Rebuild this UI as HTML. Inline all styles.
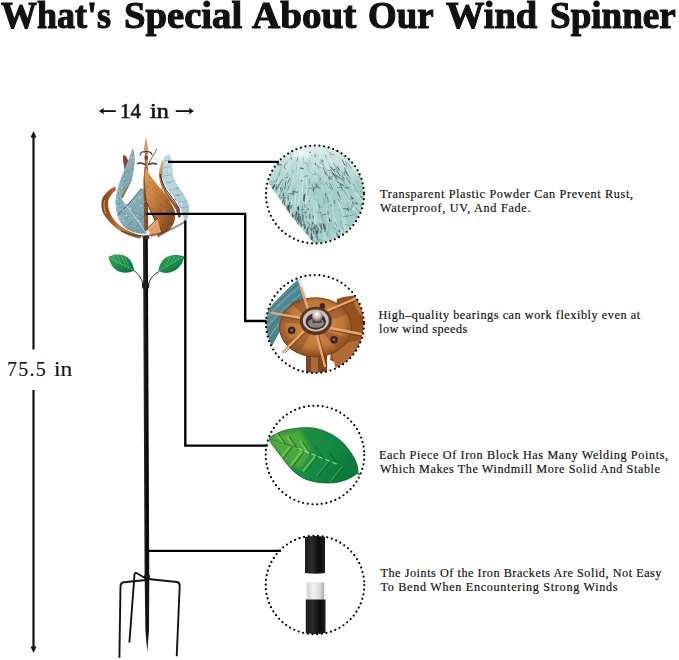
<!DOCTYPE html>
<html><head><meta charset="utf-8">
<style>
html,body{margin:0;padding:0;background:#fff;}
#c{position:relative;width:679px;height:660px;overflow:hidden;background:#fff;}
.t{position:absolute;white-space:nowrap;font-family:"Liberation Serif",serif;color:#1a1a1a;line-height:1;}
.tw{top:-4.1px;font-size:38px;font-weight:bold;color:#111;-webkit-text-stroke:1.1px #111;transform-origin:0 0;}
.dim{font-size:20px;color:#111;-webkit-text-stroke:0.55px #111;transform-origin:0 0;}
.d{font-size:12.2px;color:#111;-webkit-text-stroke:0.18px #111;}
svg{position:absolute;left:0;top:0;}
</style></head><body>
<div id="c">
<div class="t tw" style="left:1.00px;transform:scaleX(0.9483);">What's</div>
<div class="t tw" style="left:123.96px;transform:scaleX(1.0175);">Special</div>
<div class="t tw" style="left:252.00px;transform:scaleX(1.0294);">About</div>
<div class="t tw" style="left:368.03px;transform:scaleX(0.9697);">Our</div>
<div class="t tw" style="left:446.00px;transform:scaleX(1.0111);">Wind</div>
<div class="t tw" style="left:550.05px;transform:scaleX(0.9764);">Spinner</div>

<div class="t d" id="l1a" style="left:380.0px;top:187.8px;letter-spacing:0.651px;">Transparent Plastic Powder Can Prevent Rust,</div>
<div class="t d" id="l1b" style="left:380.0px;top:201.8px;letter-spacing:0.708px;">Waterproof, UV, And Fade.</div>
<div class="t d" id="l2a" style="left:378.5px;top:308.8px;letter-spacing:0.565px;">High–quality bearings can work flexibly even at</div>
<div class="t d" id="l2b" style="left:379.0px;top:322.8px;letter-spacing:0.500px;">low wind speeds</div>
<div class="t d" id="l3a" style="left:379.0px;top:448.8px;letter-spacing:0.625px;">Each Piece Of Iron Block Has Many Welding Points,</div>
<div class="t d" id="l3b" style="left:380.0px;top:462.8px;letter-spacing:0.578px;">Which Makes The Windmill More Solid And Stable</div>
<div class="t d" id="l4a" style="left:380.5px;top:566.8px;letter-spacing:0.542px;">The Joints Of the Iron Brackets Are Solid, Not Easy</div>
<div class="t d" id="l4b" style="left:380.5px;top:580.8px;letter-spacing:0.681px;">To Bend When Encountering Strong Winds</div>

<div class="t dim" style="left:7px;top:359px;letter-spacing:1.27px;-webkit-text-stroke:0.1px #111;">75.5</div>
<div class="t dim" style="left:54.2px;top:359px;transform:scaleX(1.18);-webkit-text-stroke:0.1px #111;">in</div>
<div class="t dim" style="left:120.4px;top:101px;transform:scaleX(1.05);">14</div>
<div class="t dim" style="left:149.5px;top:101px;transform:scaleX(1.21);">in</div>

<svg id="gfx" width="679" height="660" viewBox="0 0 679 660">
<defs>
  <linearGradient id="cuL" x1="0" y1="0" x2="1" y2="0">
    <stop offset="0" stop-color="#7a3e1c"/><stop offset="0.45" stop-color="#c27a3a"/><stop offset="1" stop-color="#8a4a22"/>
  </linearGradient>
  <linearGradient id="cuC" x1="0" y1="0" x2="1" y2="1">
    <stop offset="0" stop-color="#e0a055"/><stop offset="0.45" stop-color="#c0763a"/><stop offset="1" stop-color="#6e3616"/>
  </linearGradient>
  <linearGradient id="tlL" x1="0" y1="0" x2="1" y2="1">
    <stop offset="0" stop-color="#9bbcc6"/><stop offset="0.5" stop-color="#86acb8"/><stop offset="1" stop-color="#7399a6"/>
  </linearGradient>
  <linearGradient id="tlR" x1="0" y1="0" x2="1" y2="1">
    <stop offset="0" stop-color="#c6dde3"/><stop offset="1" stop-color="#a6c8d0"/>
  </linearGradient>
  <linearGradient id="leafG" x1="0" y1="0" x2="1" y2="1">
    <stop offset="0" stop-color="#3ea456"/><stop offset="0.5" stop-color="#1c8a50"/><stop offset="1" stop-color="#0e6c40"/>
  </linearGradient>
  <linearGradient id="pole" x1="0" y1="0" x2="1" y2="0">
    <stop offset="0" stop-color="#2a2622"/><stop offset="0.35" stop-color="#1e1c1a"/><stop offset="0.7" stop-color="#050505"/><stop offset="1" stop-color="#222"/>
  </linearGradient>
  <clipPath id="c1"><circle cx="315" cy="194.5" r="48.6"/></clipPath>
  <clipPath id="c2"><circle cx="315" cy="324" r="48.6"/></clipPath>
  <clipPath id="c3"><circle cx="315" cy="455" r="48.9"/></clipPath>
  <clipPath id="c4"><circle cx="315" cy="585" r="48.9"/></clipPath>
  <radialGradient id="disc" cx="0.5" cy="0.45" r="0.55">
    <stop offset="0" stop-color="#d89050"/><stop offset="0.7" stop-color="#c07838"/><stop offset="1" stop-color="#8a4a20"/>
  </radialGradient>
  <radialGradient id="nut" cx="0.45" cy="0.35" r="0.6">
    <stop offset="0" stop-color="#ffffff"/><stop offset="0.45" stop-color="#e0d0ca"/><stop offset="1" stop-color="#8a7470"/>
  </radialGradient>
  <linearGradient id="silver" x1="0" y1="0" x2="1" y2="0">
    <stop offset="0" stop-color="#cfcfcf"/><stop offset="0.35" stop-color="#f0f0f0"/><stop offset="0.75" stop-color="#dadada"/><stop offset="1" stop-color="#a8a8a8"/>
  </linearGradient>
  <linearGradient id="blk" x1="0" y1="0" x2="1" y2="0">
    <stop offset="0" stop-color="#1a1a1a"/><stop offset="0.35" stop-color="#2c2c2c"/><stop offset="0.7" stop-color="#0c0c0c"/><stop offset="1" stop-color="#1e1e1e"/>
  </linearGradient>
  <linearGradient id="bigleaf" x1="0" y1="0" x2="1" y2="0.4">
    <stop offset="0" stop-color="#3e9f3c"/><stop offset="0.35" stop-color="#1f8e40"/><stop offset="0.7" stop-color="#138a44"/><stop offset="1" stop-color="#0c7a3a"/>
  </linearGradient>
  <linearGradient id="tealC2" x1="0" y1="0" x2="1" y2="1">
    <stop offset="0" stop-color="#6a9ca4"/><stop offset="0.5" stop-color="#4f858e"/><stop offset="1" stop-color="#3f7480"/>
  </linearGradient>
  <radialGradient id="hl1" cx="0.5" cy="0.5" r="0.5">
    <stop offset="0" stop-color="#f4fbfb" stop-opacity="0.95"/><stop offset="1" stop-color="#e6f5f4" stop-opacity="0"/>
  </radialGradient>
  <linearGradient id="topfade" x1="0" y1="0" x2="0" y2="1">
    <stop offset="0" stop-color="#f2fafa" stop-opacity="0.75"/><stop offset="1" stop-color="#f2fafa" stop-opacity="0"/>
  </linearGradient>
  <linearGradient id="cuBack" x1="0" y1="0" x2="0" y2="1">
    <stop offset="0" stop-color="#d8bc90"/><stop offset="0.35" stop-color="#b07a4a"/><stop offset="1" stop-color="#7a4220"/>
  </linearGradient>
  <filter id="blur2" x="-20%" y="-20%" width="140%" height="140%"><feGaussianBlur stdDeviation="2"/></filter>
</defs>

<!-- ===== SPINNER ===== -->
<!-- pole -->
<path d="M143 237 L147.8 237 L149.3 577 L144.6 577 Z" fill="url(#pole)"/>
<path d="M144.7 576 L149.3 576 L149 630 L147.3 652 L145.4 630 Z" fill="#151515"/>
<rect x="142" y="282" width="7.2" height="7" rx="2.5" fill="#231d19"/>
<!-- stems -->
<path d="M133.5 270 C138 273.5 141.5 278 143.2 284" stroke="#3b3530" stroke-width="1" fill="none"/>
<path d="M158.8 271.5 C153.5 274.5 150.2 278.5 148.6 284" stroke="#3b3530" stroke-width="1" fill="none"/>
<!-- leaves -->
<path d="M108.4 257 C113 254 121 253.5 127 257 C131 260 133.5 265 134 270.5 C129 273.5 121 273.5 116 270 C112 267 109.5 262 108.4 257 Z" fill="url(#leafG)"/>
<path d="M110 258 L133 270 M113 256 L118 264 M117 255 L122 266 M121 255 L126 267 M125 257 L129 268" stroke="#7cd27a" stroke-width="0.8" fill="none" opacity="0.6"/>
<path d="M158.5 271 C159 265 162 259 168 256.5 C174 254 180 255 184.5 256.5 C183 262 180 268 174 271 C169 273.5 163 273.5 158.5 271 Z" fill="url(#leafG)"/>
<path d="M159.5 270.5 L183 257 M166 266 L170 257 M170 264 L175 256 M174 262 L179 256 M178 260 L182 257" stroke="#7cd27a" stroke-width="0.8" fill="none" opacity="0.6"/>

<!-- head: left outer copper band -->
<path d="M115.3 186.4 C111 188 105 193 102.5 198 C101 202 101 209 103.5 213.6 C105.5 217 108 221 116 228 C120 231 124 233.4 126 234.2 C131 236.4 135 237.6 140 238.4 L141.5 235.6 C135 234 129 231.5 124 228.5 C119 225.5 115 221.5 112.2 217 C109.5 212.5 108 208 108 203.6 C108.2 200 109 198 110.2 196.8 C111.8 194 113.6 192 115.8 190 Z" fill="url(#cuL)"/>
<path d="M104.5 200 C103.5 205 104 210 106 214" stroke="#e2a464" stroke-width="1.2" fill="none" opacity="0.8"/>
<!-- small left copper petal -->
<path d="M123.3 155 C125.5 154.5 127.8 158 128.6 163 L129.2 172 L125.5 174 C124.5 167 122 160 123.3 155 Z" fill="#8a4622"/>
<!-- central shaft (upper visible part) -->
<rect x="144.8" y="152" width="2.8" height="30" fill="#b0703a"/>
<!-- lower teal mass (A lower + B) -->
<path d="M115.6 201 L124.5 203 L128 204.5 L141.6 188 L146.2 190.5 L146.6 233.5 C141 234.5 133 233 127 229.5 C120.5 225 116.5 216 115.8 207 Z" fill="url(#tlL)"/>
<!-- ribbon A upper -->
<path d="M132.6 148.2 C134.5 151 135.2 157 134.6 163 C134 169 133 175 131.6 180 L121.2 197.5 L124.5 203 L115.6 205 C115.3 199 116.5 192 119 184 C122 175 126 166 129.5 157 C130.8 153.5 131.8 150.5 132.6 148.2 Z" fill="url(#tlL)"/>
<!-- copper back strip on A -->
<path d="M131.8 179 L133.2 175.5 C131 183 126.5 191 122.5 198.5 L120.7 197.5 Z" fill="#9a6446"/>
<!-- ribbon lines & texture -->
<path d="M141.6 188.6 L128 204.5 L117 215.5" stroke="#2e3e48" stroke-width="0.8" fill="none"/>
<path d="M120.5 197 C126 206 136 217 146 233" stroke="#cfe3e6" stroke-width="0.9" fill="none"/>
<g stroke="#4d7482" stroke-width="0.7" opacity="0.7" fill="none">
  <path d="M119 208 L123 206"/><path d="M121 214 L126 211"/><path d="M124 220 L129 216"/><path d="M128 225 L133 221"/><path d="M133 229 L138 225"/>
  <path d="M131 211 L136 207"/><path d="M135 216 L140 211"/><path d="M139 221 L144 216"/><path d="M120 190 L125 188"/><path d="M122 182 L127 180"/><path d="M126 172 L130 170"/>
</g>
<!-- central copper strap (left) -->
<path d="M144.6 167 L147.6 167 L148.3 230 L144.4 231 L143.4 180 Z" fill="#8a4a24"/>
<!-- central copper petal body -->
<path d="M145.8 167 C148 172 151 177 156 183 C158 186 160 188 162 190 C168 197 172 204 174.8 211 C176 217 174.5 223 171 228 C167 232 162 235.5 157.5 237.2 C157 232 158 229 158 228 C155 222 151 213 147.2 203 C145.8 195 145 185 144.5 174.5 Z" fill="url(#cuC)"/>
<path d="M147 203 C151 212 156 222 162 231" stroke="#4a2810" stroke-width="0.8" fill="none"/>
<!-- copper tex -->
<clipPath id="petalC"><path d="M145.8 167 C148 172 151 177 156 183 C158 186 160 188 162 190 C168 197 172 204 174.8 211 C176 217 174.5 223 171 228 C167 232 162 235.5 157.5 237.2 C157 232 158 229 158 228 C155 222 151 213 147.2 203 C145.8 195 145 185 144.5 174.5 Z"/></clipPath>
<clipPath id="bandC"><path d="M115.3 186.4 C111 188 105 193 102.5 198 C101 202 101 209 103.5 213.6 C105.5 217 108 221 116 228 C120 231 124 233.4 126 234.2 C131 236.4 135 237.6 140 238.4 L141.5 235.6 C135 234 129 231.5 124 228.5 C119 225.5 115 221.5 112.2 217 C109.5 212.5 108 208 108 203.6 C108.2 200 109 198 110.2 196.8 C111.8 194 113.6 192 115.8 190 Z"/></clipPath>
<g clip-path="url(#petalC)"><line x1="159.4" y1="193.8" x2="160.8" y2="194.8" stroke="#e8b070" stroke-width="0.76" opacity="0.38"/><line x1="162.2" y1="210.5" x2="163.5" y2="211.4" stroke="#e8b070" stroke-width="0.47" opacity="0.68"/><line x1="174.5" y1="197.2" x2="175.9" y2="198.5" stroke="#6a3414" stroke-width="0.71" opacity="0.48"/><line x1="168.1" y1="175.0" x2="169.9" y2="176.4" stroke="#7a4018" stroke-width="0.69" opacity="0.50"/><line x1="147.7" y1="186.4" x2="149.5" y2="187.4" stroke="#7a4018" stroke-width="0.68" opacity="0.35"/><line x1="157.7" y1="229.8" x2="159.5" y2="233.0" stroke="#7a4018" stroke-width="0.41" opacity="0.50"/><line x1="173.1" y1="175.7" x2="175.1" y2="178.0" stroke="#7a4018" stroke-width="0.53" opacity="0.66"/><line x1="149.1" y1="231.3" x2="150.9" y2="233.4" stroke="#e8b070" stroke-width="0.62" opacity="0.42"/><line x1="147.1" y1="181.3" x2="150.0" y2="183.1" stroke="#6a3414" stroke-width="0.42" opacity="0.54"/><line x1="163.8" y1="178.3" x2="165.7" y2="179.3" stroke="#6a3414" stroke-width="0.45" opacity="0.60"/><line x1="174.5" y1="184.3" x2="176.5" y2="186.6" stroke="#6a3414" stroke-width="0.75" opacity="0.39"/><line x1="172.3" y1="193.2" x2="173.9" y2="194.5" stroke="#7a4018" stroke-width="0.79" opacity="0.55"/><line x1="145.6" y1="223.2" x2="147.7" y2="224.2" stroke="#e8b070" stroke-width="0.51" opacity="0.64"/><line x1="154.5" y1="187.7" x2="156.7" y2="189.4" stroke="#6a3414" stroke-width="0.41" opacity="0.62"/><line x1="170.0" y1="202.3" x2="172.7" y2="204.2" stroke="#e8b070" stroke-width="0.66" opacity="0.38"/><line x1="168.6" y1="203.2" x2="170.6" y2="206.5" stroke="#5a2c10" stroke-width="0.46" opacity="0.45"/><line x1="166.5" y1="228.4" x2="167.2" y2="229.8" stroke="#5a2c10" stroke-width="0.78" opacity="0.70"/><line x1="163.8" y1="168.8" x2="165.3" y2="169.5" stroke="#7a4018" stroke-width="0.71" opacity="0.45"/><line x1="145.5" y1="223.1" x2="147.5" y2="224.0" stroke="#6a3414" stroke-width="0.70" opacity="0.45"/><line x1="148.7" y1="197.0" x2="150.1" y2="198.1" stroke="#e8b070" stroke-width="0.64" opacity="0.63"/><line x1="165.6" y1="186.9" x2="168.3" y2="188.1" stroke="#6a3414" stroke-width="0.51" opacity="0.39"/><line x1="169.8" y1="224.6" x2="171.5" y2="225.4" stroke="#7a4018" stroke-width="0.74" opacity="0.42"/><line x1="159.7" y1="208.8" x2="161.5" y2="211.1" stroke="#5a2c10" stroke-width="0.61" opacity="0.68"/><line x1="145.9" y1="236.5" x2="148.5" y2="239.1" stroke="#5a2c10" stroke-width="0.61" opacity="0.54"/><line x1="173.2" y1="172.5" x2="176.1" y2="173.7" stroke="#7a4018" stroke-width="0.69" opacity="0.39"/><line x1="166.7" y1="199.3" x2="169.0" y2="200.7" stroke="#6a3414" stroke-width="0.67" opacity="0.36"/><line x1="152.6" y1="199.6" x2="154.0" y2="201.6" stroke="#e8b070" stroke-width="0.75" opacity="0.36"/><line x1="163.5" y1="210.3" x2="166.3" y2="211.9" stroke="#e8b070" stroke-width="0.64" opacity="0.38"/><line x1="146.1" y1="219.9" x2="147.0" y2="221.3" stroke="#e8b070" stroke-width="0.41" opacity="0.62"/><line x1="155.3" y1="222.0" x2="156.5" y2="223.0" stroke="#e8b070" stroke-width="0.64" opacity="0.69"/><line x1="175.6" y1="225.5" x2="177.1" y2="226.3" stroke="#7a4018" stroke-width="0.48" opacity="0.43"/><line x1="148.4" y1="176.3" x2="151.2" y2="179.0" stroke="#6a3414" stroke-width="0.55" opacity="0.61"/><line x1="159.5" y1="204.0" x2="161.6" y2="205.1" stroke="#5a2c10" stroke-width="0.71" opacity="0.59"/><line x1="145.5" y1="185.5" x2="148.2" y2="186.8" stroke="#6a3414" stroke-width="0.61" opacity="0.50"/><line x1="172.9" y1="200.8" x2="174.3" y2="202.6" stroke="#5a2c10" stroke-width="0.45" opacity="0.36"/><line x1="150.8" y1="192.4" x2="154.5" y2="193.7" stroke="#e8b070" stroke-width="0.77" opacity="0.66"/><line x1="173.5" y1="234.8" x2="175.0" y2="235.6" stroke="#5a2c10" stroke-width="0.60" opacity="0.47"/><line x1="171.0" y1="195.5" x2="172.4" y2="197.0" stroke="#5a2c10" stroke-width="0.52" opacity="0.51"/><line x1="173.7" y1="199.5" x2="175.7" y2="200.8" stroke="#6a3414" stroke-width="0.47" opacity="0.54"/><line x1="150.8" y1="217.1" x2="153.3" y2="219.1" stroke="#7a4018" stroke-width="0.78" opacity="0.38"/><line x1="175.2" y1="234.4" x2="176.9" y2="236.9" stroke="#e8b070" stroke-width="0.48" opacity="0.54"/><line x1="155.4" y1="169.3" x2="158.0" y2="170.6" stroke="#e8b070" stroke-width="0.49" opacity="0.60"/><line x1="168.7" y1="223.1" x2="171.0" y2="224.7" stroke="#7a4018" stroke-width="0.43" opacity="0.35"/><line x1="173.6" y1="170.9" x2="175.1" y2="172.0" stroke="#7a4018" stroke-width="0.68" opacity="0.53"/><line x1="169.5" y1="195.9" x2="172.9" y2="197.1" stroke="#7a4018" stroke-width="0.60" opacity="0.48"/><line x1="174.4" y1="181.9" x2="176.9" y2="184.7" stroke="#7a4018" stroke-width="0.72" opacity="0.62"/><line x1="150.5" y1="179.8" x2="152.1" y2="181.4" stroke="#e8b070" stroke-width="0.76" opacity="0.61"/><line x1="153.5" y1="177.9" x2="155.8" y2="179.1" stroke="#7a4018" stroke-width="0.47" opacity="0.40"/><line x1="166.0" y1="219.3" x2="167.4" y2="220.2" stroke="#7a4018" stroke-width="0.62" opacity="0.68"/><line x1="168.6" y1="199.3" x2="170.2" y2="201.1" stroke="#7a4018" stroke-width="0.76" opacity="0.43"/><line x1="151.3" y1="215.3" x2="152.3" y2="217.7" stroke="#5a2c10" stroke-width="0.60" opacity="0.37"/><line x1="170.1" y1="195.5" x2="172.7" y2="195.0" stroke="#7a4018" stroke-width="0.62" opacity="0.67"/><line x1="174.9" y1="173.9" x2="176.3" y2="175.8" stroke="#7a4018" stroke-width="0.70" opacity="0.35"/><line x1="165.5" y1="191.1" x2="167.5" y2="191.8" stroke="#7a4018" stroke-width="0.41" opacity="0.60"/><line x1="163.2" y1="235.0" x2="166.1" y2="236.2" stroke="#5a2c10" stroke-width="0.52" opacity="0.36"/><line x1="157.6" y1="221.8" x2="159.1" y2="223.9" stroke="#6a3414" stroke-width="0.53" opacity="0.64"/><line x1="172.4" y1="217.1" x2="174.6" y2="219.2" stroke="#e8b070" stroke-width="0.74" opacity="0.63"/><line x1="173.6" y1="178.5" x2="176.0" y2="178.6" stroke="#e8b070" stroke-width="0.46" opacity="0.50"/><line x1="168.2" y1="225.7" x2="171.1" y2="226.9" stroke="#e8b070" stroke-width="0.61" opacity="0.44"/><line x1="164.0" y1="233.5" x2="166.2" y2="234.4" stroke="#6a3414" stroke-width="0.80" opacity="0.61"/><line x1="165.0" y1="200.0" x2="167.0" y2="203.3" stroke="#7a4018" stroke-width="0.59" opacity="0.39"/><line x1="154.6" y1="183.6" x2="155.8" y2="185.1" stroke="#e8b070" stroke-width="0.77" opacity="0.48"/><line x1="164.8" y1="190.3" x2="168.0" y2="192.3" stroke="#7a4018" stroke-width="0.44" opacity="0.42"/><line x1="153.0" y1="228.9" x2="155.2" y2="230.4" stroke="#5a2c10" stroke-width="0.62" opacity="0.60"/><line x1="147.3" y1="216.7" x2="149.9" y2="218.8" stroke="#7a4018" stroke-width="0.60" opacity="0.65"/><line x1="156.3" y1="213.7" x2="159.4" y2="215.8" stroke="#5a2c10" stroke-width="0.69" opacity="0.53"/><line x1="157.7" y1="179.1" x2="160.1" y2="180.7" stroke="#e8b070" stroke-width="0.72" opacity="0.54"/><line x1="168.2" y1="175.2" x2="170.7" y2="177.9" stroke="#7a4018" stroke-width="0.57" opacity="0.48"/><line x1="156.6" y1="236.6" x2="160.1" y2="237.2" stroke="#6a3414" stroke-width="0.66" opacity="0.63"/><line x1="165.0" y1="197.2" x2="166.3" y2="198.1" stroke="#e8b070" stroke-width="0.43" opacity="0.44"/><line x1="151.0" y1="208.3" x2="154.9" y2="209.3" stroke="#7a4018" stroke-width="0.52" opacity="0.35"/><line x1="148.7" y1="207.8" x2="150.2" y2="209.1" stroke="#6a3414" stroke-width="0.55" opacity="0.45"/><line x1="175.0" y1="180.9" x2="178.7" y2="181.7" stroke="#7a4018" stroke-width="0.74" opacity="0.50"/><line x1="150.6" y1="189.1" x2="152.5" y2="190.2" stroke="#e8b070" stroke-width="0.72" opacity="0.53"/><line x1="174.6" y1="235.6" x2="176.8" y2="237.3" stroke="#e8b070" stroke-width="0.73" opacity="0.38"/><line x1="168.4" y1="226.1" x2="170.4" y2="227.3" stroke="#e8b070" stroke-width="0.47" opacity="0.68"/><line x1="163.9" y1="236.5" x2="166.5" y2="237.4" stroke="#6a3414" stroke-width="0.63" opacity="0.35"/><line x1="153.8" y1="216.4" x2="155.1" y2="217.6" stroke="#5a2c10" stroke-width="0.71" opacity="0.41"/><line x1="145.2" y1="228.2" x2="147.9" y2="229.1" stroke="#5a2c10" stroke-width="0.53" opacity="0.41"/><line x1="166.6" y1="189.9" x2="169.0" y2="192.0" stroke="#5a2c10" stroke-width="0.59" opacity="0.66"/><line x1="155.1" y1="216.2" x2="157.7" y2="219.0" stroke="#6a3414" stroke-width="0.64" opacity="0.63"/><line x1="147.2" y1="196.5" x2="149.4" y2="197.9" stroke="#e8b070" stroke-width="0.58" opacity="0.36"/><line x1="151.5" y1="225.4" x2="154.7" y2="227.2" stroke="#5a2c10" stroke-width="0.40" opacity="0.66"/><line x1="169.1" y1="198.8" x2="170.7" y2="199.9" stroke="#6a3414" stroke-width="0.51" opacity="0.69"/><line x1="148.7" y1="227.1" x2="150.4" y2="228.0" stroke="#7a4018" stroke-width="0.68" opacity="0.69"/><line x1="168.1" y1="202.0" x2="170.6" y2="203.3" stroke="#e8b070" stroke-width="0.79" opacity="0.58"/><line x1="159.5" y1="195.8" x2="160.9" y2="196.8" stroke="#7a4018" stroke-width="0.70" opacity="0.56"/><line x1="156.8" y1="199.4" x2="158.1" y2="200.7" stroke="#6a3414" stroke-width="0.72" opacity="0.49"/><line x1="161.9" y1="224.2" x2="163.6" y2="224.9" stroke="#5a2c10" stroke-width="0.62" opacity="0.57"/><line x1="148.3" y1="168.0" x2="149.9" y2="170.5" stroke="#5a2c10" stroke-width="0.66" opacity="0.59"/></g>
<g clip-path="url(#bandC)"><line x1="122.8" y1="220.0" x2="124.1" y2="220.7" stroke="#6a3414" stroke-width="0.46" opacity="0.37"/><line x1="132.8" y1="199.9" x2="133.5" y2="201.6" stroke="#5a2c10" stroke-width="0.41" opacity="0.55"/><line x1="133.2" y1="186.9" x2="135.5" y2="188.7" stroke="#6a3414" stroke-width="0.45" opacity="0.60"/><line x1="128.6" y1="216.6" x2="130.4" y2="218.2" stroke="#6a3414" stroke-width="0.46" opacity="0.39"/><line x1="121.2" y1="193.4" x2="120.5" y2="195.9" stroke="#5a2c10" stroke-width="0.63" opacity="0.58"/><line x1="126.9" y1="186.1" x2="128.3" y2="188.8" stroke="#e0a060" stroke-width="0.70" opacity="0.53"/><line x1="134.8" y1="235.1" x2="135.6" y2="237.0" stroke="#5a2c10" stroke-width="0.70" opacity="0.65"/><line x1="108.7" y1="225.6" x2="109.4" y2="228.4" stroke="#e0a060" stroke-width="0.59" opacity="0.65"/><line x1="129.5" y1="188.7" x2="130.4" y2="191.5" stroke="#e0a060" stroke-width="0.52" opacity="0.38"/><line x1="123.0" y1="227.7" x2="122.8" y2="230.5" stroke="#e0a060" stroke-width="0.48" opacity="0.38"/><line x1="109.6" y1="187.9" x2="110.7" y2="190.9" stroke="#6a3414" stroke-width="0.64" opacity="0.38"/><line x1="137.2" y1="232.2" x2="137.5" y2="235.3" stroke="#6a3414" stroke-width="0.46" opacity="0.36"/><line x1="128.8" y1="230.3" x2="130.9" y2="232.5" stroke="#e0a060" stroke-width="0.50" opacity="0.36"/><line x1="103.1" y1="186.3" x2="105.8" y2="187.0" stroke="#e0a060" stroke-width="0.43" opacity="0.42"/><line x1="106.7" y1="224.1" x2="108.8" y2="226.1" stroke="#e0a060" stroke-width="0.64" opacity="0.56"/><line x1="110.0" y1="210.4" x2="111.1" y2="212.2" stroke="#5a2c10" stroke-width="0.59" opacity="0.42"/><line x1="118.9" y1="210.5" x2="120.1" y2="212.5" stroke="#e0a060" stroke-width="0.44" opacity="0.36"/><line x1="103.6" y1="205.1" x2="106.2" y2="207.4" stroke="#e0a060" stroke-width="0.73" opacity="0.39"/><line x1="112.0" y1="207.5" x2="113.0" y2="210.7" stroke="#e0a060" stroke-width="0.56" opacity="0.70"/><line x1="137.0" y1="204.3" x2="138.0" y2="205.9" stroke="#5a2c10" stroke-width="0.74" opacity="0.47"/><line x1="136.7" y1="234.1" x2="139.5" y2="235.3" stroke="#e0a060" stroke-width="0.54" opacity="0.66"/><line x1="127.6" y1="224.7" x2="128.2" y2="226.5" stroke="#e0a060" stroke-width="0.78" opacity="0.44"/><line x1="139.5" y1="226.4" x2="138.3" y2="228.5" stroke="#6a3414" stroke-width="0.42" opacity="0.50"/><line x1="114.0" y1="219.9" x2="114.6" y2="221.5" stroke="#e0a060" stroke-width="0.43" opacity="0.53"/><line x1="114.8" y1="187.0" x2="115.7" y2="189.2" stroke="#6a3414" stroke-width="0.57" opacity="0.47"/><line x1="123.2" y1="224.2" x2="124.1" y2="226.8" stroke="#e0a060" stroke-width="0.57" opacity="0.58"/><line x1="120.4" y1="202.3" x2="119.2" y2="203.9" stroke="#e0a060" stroke-width="0.56" opacity="0.57"/><line x1="114.9" y1="211.1" x2="117.0" y2="213.1" stroke="#5a2c10" stroke-width="0.78" opacity="0.48"/><line x1="116.4" y1="237.5" x2="117.6" y2="240.5" stroke="#6a3414" stroke-width="0.43" opacity="0.56"/><line x1="113.4" y1="215.6" x2="114.5" y2="217.1" stroke="#5a2c10" stroke-width="0.60" opacity="0.46"/><line x1="124.6" y1="214.4" x2="124.5" y2="216.2" stroke="#6a3414" stroke-width="0.54" opacity="0.42"/><line x1="105.1" y1="218.4" x2="105.9" y2="220.9" stroke="#6a3414" stroke-width="0.67" opacity="0.55"/><line x1="124.8" y1="233.3" x2="126.2" y2="236.3" stroke="#5a2c10" stroke-width="0.76" opacity="0.36"/><line x1="139.0" y1="196.9" x2="139.7" y2="198.7" stroke="#e0a060" stroke-width="0.66" opacity="0.58"/><line x1="116.7" y1="235.8" x2="117.6" y2="237.7" stroke="#6a3414" stroke-width="0.71" opacity="0.65"/><line x1="133.0" y1="197.8" x2="134.0" y2="199.8" stroke="#6a3414" stroke-width="0.70" opacity="0.37"/><line x1="113.9" y1="190.2" x2="117.0" y2="191.3" stroke="#5a2c10" stroke-width="0.47" opacity="0.43"/><line x1="121.5" y1="187.6" x2="124.2" y2="189.2" stroke="#6a3414" stroke-width="0.70" opacity="0.57"/><line x1="119.3" y1="236.8" x2="121.2" y2="239.3" stroke="#e0a060" stroke-width="0.53" opacity="0.35"/><line x1="103.9" y1="216.2" x2="105.0" y2="218.8" stroke="#e0a060" stroke-width="0.40" opacity="0.37"/></g>
<!-- /copper tex -->
<!-- pale patch lower-left -->
<path d="M147.7 228 L157.5 218.5 L161 232 L151 237.5 Z" fill="#e2a46c"/>
<path d="M147.7 228 L157.5 218.5" stroke="#5a3010" stroke-width="0.8"/>
<path d="M150 231 L159 224 M151 234.5 L160 228" stroke="#c07a44" stroke-width="0.6" opacity="0.7"/>
<!-- right ribbon: teal -->
<path d="M168.4 154.2 C170.5 155.5 172 160 172.3 165 C172.5 170 172.8 176 175 181 C177 185 182 191 185 196.8 C187.5 201 189.5 204 189.3 208 C189 212 188.5 217 186.5 221 L184 220.5 C183.5 217 183 215.5 182.5 213.8 C181.5 210 180.8 208 178.5 204.5 C176 201 175 199 173.4 196.8 C170 193 167.5 190 166 186.2 C163.5 182 161.5 178 160.8 172 C160.5 166 162 160 164.5 157 C166 155.5 167 154.6 168.4 154.2 Z" fill="url(#tlR)"/>
<g stroke="#6f99a6" stroke-width="0.7" opacity="0.75" fill="none">
  <path d="M163 168 L170 167"/><path d="M163.5 176 L172 174.5"/><path d="M166 183 L175 181"/><path d="M170 190 L179 188"/><path d="M174 196 L183 194.5"/><path d="M178 202 L187 201"/><path d="M181 208 L188.5 207"/><path d="M183 214 L188 213.5"/><path d="M164 161 L170 160"/>
</g>
<path d="M162 160 C160 166 158.8 171 159 176 C159.5 182 161.5 188 165 193.5 C168.5 199 172.5 204 175.5 209 C177 212 178 215 178.5 218 L181 216.5 C180.5 213 179.5 210.5 178.5 208 C176 204 173 200.5 170 196.5 C166.5 192 163.8 187 162.6 182 C161.8 177 162 170 164 162 Z" fill="url(#cuBack)"/>
<path d="M160 174 C161.5 182 165 189 170 195 C174 200 177.5 205 180 211" stroke="#3a2818" stroke-width="1" fill="none"/>
<!-- teal speckles -->
<clipPath id="tealL"><path d="M115.6 201 L124.5 203 L128 204.5 L141.6 188 L146.2 190.5 L146.6 233.5 C141 234.5 133 233 127 229.5 C120.5 225 116.5 216 115.8 207 Z"/><path d="M132.6 148.2 C134.5 151 135.2 157 134.6 163 C134 169 133 175 131.6 180 L121.2 197.5 L124.5 203 L115.6 205 C115.3 199 116.5 192 119 184 C122 175 126 166 129.5 157 C130.8 153.5 131.8 150.5 132.6 148.2 Z"/></clipPath>
<clipPath id="tealR"><path d="M168.4 154.2 C170.5 155.5 172 160 172.3 165 C172.5 170 172.8 176 175 181 C177 185 182 191 185 196.8 C187.5 201 189.5 204 189.3 208 C189 212 188.5 217 186.5 221 L184 220.5 C183.5 217 183 215.5 182.5 213.8 C181.5 210 180.8 208 178.5 204.5 C176 201 175 199 173.4 196.8 C170 193 167.5 190 166 186.2 C163.5 182 161.5 178 160.8 172 C160.5 166 162 160 164.5 157 C166 155.5 167 154.6 168.4 154.2 Z"/></clipPath>
<g clip-path="url(#tealL)"><circle cx="134.8" cy="212.5" r="0.58" fill="#3e6470" opacity="0.70"/>
<circle cx="145.3" cy="147.6" r="0.68" fill="#eef6f8" opacity="0.76"/>
<circle cx="144.5" cy="155.3" r="0.44" fill="#eef6f8" opacity="0.72"/>
<circle cx="133.1" cy="146.2" r="0.45" fill="#eef6f8" opacity="0.87"/>
<circle cx="139.8" cy="159.5" r="0.34" fill="#3e6470" opacity="0.65"/>
<circle cx="117.4" cy="145.2" r="0.36" fill="#3e6470" opacity="0.49"/>
<circle cx="147.4" cy="224.4" r="0.69" fill="#eef6f8" opacity="0.72"/>
<circle cx="136.7" cy="163.6" r="0.51" fill="#3e6470" opacity="0.79"/>
<circle cx="144.3" cy="172.2" r="0.41" fill="#eef6f8" opacity="0.56"/>
<circle cx="115.3" cy="172.4" r="0.30" fill="#3e6470" opacity="0.67"/>
<circle cx="124.8" cy="173.2" r="0.44" fill="#3e6470" opacity="0.53"/>
<circle cx="129.8" cy="209.1" r="0.69" fill="#eef6f8" opacity="0.51"/>
<circle cx="139.2" cy="221.9" r="0.63" fill="#eef6f8" opacity="0.65"/>
<circle cx="133.2" cy="145.8" r="0.41" fill="#eef6f8" opacity="0.88"/>
<circle cx="119.9" cy="213.8" r="0.58" fill="#3e6470" opacity="0.54"/>
<circle cx="125.4" cy="192.7" r="0.33" fill="#3e6470" opacity="0.70"/>
<circle cx="140.9" cy="223.2" r="0.68" fill="#eef6f8" opacity="0.54"/>
<circle cx="124.9" cy="200.6" r="0.40" fill="#3e6470" opacity="0.77"/>
<circle cx="132.1" cy="173.4" r="0.41" fill="#eef6f8" opacity="0.53"/>
<circle cx="118.2" cy="207.7" r="0.35" fill="#3e6470" opacity="0.42"/>
<circle cx="147.5" cy="193.6" r="0.43" fill="#eef6f8" opacity="0.74"/>
<circle cx="141.9" cy="186.5" r="0.37" fill="#eef6f8" opacity="0.87"/>
<circle cx="114.1" cy="189.9" r="0.34" fill="#3e6470" opacity="0.69"/>
<circle cx="146.2" cy="202.4" r="0.33" fill="#3e6470" opacity="0.57"/>
<circle cx="118.2" cy="221.9" r="0.51" fill="#eef6f8" opacity="0.90"/>
<circle cx="142.8" cy="233.8" r="0.52" fill="#eef6f8" opacity="0.79"/>
<circle cx="129.8" cy="171.5" r="0.40" fill="#eef6f8" opacity="0.65"/>
<circle cx="147.6" cy="232.3" r="0.45" fill="#3e6470" opacity="0.54"/>
<circle cx="116.1" cy="169.8" r="0.56" fill="#3e6470" opacity="0.54"/>
<circle cx="140.5" cy="215.5" r="0.50" fill="#3e6470" opacity="0.70"/>
<circle cx="125.7" cy="209.1" r="0.52" fill="#eef6f8" opacity="0.81"/>
<circle cx="137.2" cy="171.7" r="0.49" fill="#3e6470" opacity="0.63"/>
<circle cx="113.4" cy="194.8" r="0.59" fill="#eef6f8" opacity="0.69"/>
<circle cx="141.6" cy="203.9" r="0.40" fill="#3e6470" opacity="0.66"/>
<circle cx="138.8" cy="220.4" r="0.65" fill="#eef6f8" opacity="0.85"/>
<circle cx="137.1" cy="233.8" r="0.46" fill="#3e6470" opacity="0.61"/>
<circle cx="118.8" cy="221.1" r="0.44" fill="#3e6470" opacity="0.68"/>
<circle cx="138.2" cy="211.5" r="0.62" fill="#eef6f8" opacity="0.73"/>
<circle cx="136.3" cy="183.3" r="0.53" fill="#3e6470" opacity="0.65"/>
<circle cx="138.2" cy="147.5" r="0.50" fill="#eef6f8" opacity="0.76"/>
<circle cx="120.7" cy="207.4" r="0.31" fill="#3e6470" opacity="0.59"/>
<circle cx="120.9" cy="149.9" r="0.46" fill="#eef6f8" opacity="0.57"/>
<circle cx="119.8" cy="148.2" r="0.48" fill="#eef6f8" opacity="0.74"/>
<circle cx="133.7" cy="166.6" r="0.30" fill="#3e6470" opacity="0.56"/>
<circle cx="122.7" cy="182.3" r="0.64" fill="#eef6f8" opacity="0.65"/>
<circle cx="114.3" cy="200.8" r="0.54" fill="#eef6f8" opacity="0.64"/>
<circle cx="133.3" cy="232.2" r="0.43" fill="#3e6470" opacity="0.73"/>
<circle cx="135.5" cy="178.6" r="0.56" fill="#eef6f8" opacity="0.73"/>
<circle cx="146.5" cy="233.1" r="0.41" fill="#3e6470" opacity="0.76"/>
<circle cx="113.0" cy="154.8" r="0.48" fill="#3e6470" opacity="0.46"/>
<circle cx="135.0" cy="226.1" r="0.50" fill="#eef6f8" opacity="0.59"/>
<circle cx="123.2" cy="233.5" r="0.69" fill="#eef6f8" opacity="0.87"/>
<circle cx="133.9" cy="168.6" r="0.45" fill="#3e6470" opacity="0.57"/>
<circle cx="124.2" cy="234.6" r="0.45" fill="#eef6f8" opacity="0.69"/>
<circle cx="117.3" cy="201.6" r="0.45" fill="#eef6f8" opacity="0.81"/>
<circle cx="141.9" cy="146.2" r="0.38" fill="#3e6470" opacity="0.77"/>
<circle cx="140.4" cy="167.4" r="0.40" fill="#eef6f8" opacity="0.90"/>
<circle cx="123.3" cy="200.3" r="0.58" fill="#eef6f8" opacity="0.74"/>
<circle cx="139.0" cy="155.8" r="0.39" fill="#3e6470" opacity="0.61"/>
<circle cx="124.8" cy="172.0" r="0.44" fill="#3e6470" opacity="0.54"/>
<circle cx="139.1" cy="198.8" r="0.44" fill="#eef6f8" opacity="0.68"/>
<circle cx="145.1" cy="225.8" r="0.30" fill="#3e6470" opacity="0.71"/>
<circle cx="128.0" cy="197.4" r="0.49" fill="#3e6470" opacity="0.59"/>
<circle cx="144.9" cy="180.1" r="0.65" fill="#eef6f8" opacity="0.58"/>
<circle cx="123.4" cy="220.5" r="0.64" fill="#eef6f8" opacity="0.78"/>
<circle cx="128.1" cy="171.1" r="0.57" fill="#3e6470" opacity="0.46"/>
<circle cx="129.7" cy="195.0" r="0.47" fill="#eef6f8" opacity="0.56"/>
<circle cx="133.5" cy="218.9" r="0.43" fill="#eef6f8" opacity="0.83"/>
<circle cx="140.7" cy="205.4" r="0.60" fill="#eef6f8" opacity="0.89"/>
<circle cx="147.9" cy="208.8" r="0.64" fill="#eef6f8" opacity="0.59"/>
<circle cx="135.6" cy="231.7" r="0.34" fill="#3e6470" opacity="0.52"/>
<circle cx="145.1" cy="158.6" r="0.42" fill="#3e6470" opacity="0.46"/>
<circle cx="134.8" cy="149.0" r="0.48" fill="#eef6f8" opacity="0.53"/>
<circle cx="115.0" cy="197.3" r="0.56" fill="#3e6470" opacity="0.45"/>
<circle cx="128.1" cy="173.6" r="0.45" fill="#3e6470" opacity="0.78"/>
<circle cx="126.1" cy="150.1" r="0.35" fill="#3e6470" opacity="0.65"/>
<circle cx="130.7" cy="227.8" r="0.49" fill="#3e6470" opacity="0.51"/>
<circle cx="132.3" cy="168.1" r="0.46" fill="#3e6470" opacity="0.45"/>
<circle cx="121.2" cy="178.8" r="0.35" fill="#3e6470" opacity="0.69"/>
<circle cx="135.9" cy="152.8" r="0.33" fill="#3e6470" opacity="0.45"/>
<circle cx="133.8" cy="166.7" r="0.44" fill="#3e6470" opacity="0.53"/>
<circle cx="140.9" cy="147.7" r="0.32" fill="#3e6470" opacity="0.46"/>
<circle cx="146.3" cy="207.0" r="0.39" fill="#eef6f8" opacity="0.89"/>
<circle cx="136.3" cy="219.7" r="0.57" fill="#eef6f8" opacity="0.64"/>
<circle cx="121.2" cy="175.3" r="0.40" fill="#3e6470" opacity="0.55"/>
<circle cx="117.8" cy="220.6" r="0.54" fill="#3e6470" opacity="0.57"/>
<circle cx="142.8" cy="192.1" r="0.47" fill="#3e6470" opacity="0.70"/>
<circle cx="126.8" cy="153.8" r="0.42" fill="#eef6f8" opacity="0.52"/>
<circle cx="144.1" cy="188.8" r="0.30" fill="#3e6470" opacity="0.59"/>
<circle cx="144.1" cy="201.4" r="0.51" fill="#eef6f8" opacity="0.54"/>
<circle cx="118.4" cy="159.5" r="0.48" fill="#eef6f8" opacity="0.85"/>
<circle cx="118.3" cy="168.1" r="0.41" fill="#eef6f8" opacity="0.61"/>
<circle cx="121.2" cy="188.9" r="0.67" fill="#eef6f8" opacity="0.65"/>
<circle cx="145.8" cy="207.6" r="0.44" fill="#3e6470" opacity="0.78"/>
<circle cx="117.1" cy="205.8" r="0.59" fill="#eef6f8" opacity="0.79"/>
<circle cx="118.7" cy="163.3" r="0.43" fill="#eef6f8" opacity="0.53"/>
<circle cx="127.0" cy="233.6" r="0.46" fill="#eef6f8" opacity="0.69"/>
<circle cx="122.9" cy="211.6" r="0.35" fill="#3e6470" opacity="0.50"/>
<circle cx="136.5" cy="230.6" r="0.43" fill="#3e6470" opacity="0.79"/>
<circle cx="113.2" cy="150.5" r="0.42" fill="#3e6470" opacity="0.42"/>
<circle cx="132.2" cy="235.1" r="0.41" fill="#3e6470" opacity="0.44"/>
<circle cx="115.5" cy="226.8" r="0.68" fill="#eef6f8" opacity="0.52"/>
<circle cx="121.5" cy="149.6" r="0.37" fill="#eef6f8" opacity="0.60"/>
<circle cx="127.3" cy="172.8" r="0.36" fill="#eef6f8" opacity="0.89"/>
<circle cx="119.3" cy="191.3" r="0.54" fill="#eef6f8" opacity="0.53"/>
<circle cx="124.0" cy="154.8" r="0.58" fill="#3e6470" opacity="0.64"/>
<circle cx="143.0" cy="164.5" r="0.54" fill="#eef6f8" opacity="0.69"/>
<circle cx="133.0" cy="179.3" r="0.52" fill="#3e6470" opacity="0.77"/>
<circle cx="123.8" cy="185.9" r="0.37" fill="#3e6470" opacity="0.45"/>
<circle cx="123.9" cy="153.0" r="0.55" fill="#3e6470" opacity="0.53"/>
<circle cx="117.5" cy="152.5" r="0.38" fill="#eef6f8" opacity="0.67"/>
<circle cx="133.2" cy="167.3" r="0.60" fill="#eef6f8" opacity="0.52"/>
<circle cx="120.0" cy="171.0" r="0.38" fill="#eef6f8" opacity="0.67"/>
<circle cx="124.0" cy="213.5" r="0.57" fill="#3e6470" opacity="0.66"/>
<circle cx="139.6" cy="197.3" r="0.64" fill="#eef6f8" opacity="0.76"/>
<circle cx="146.4" cy="211.2" r="0.38" fill="#3e6470" opacity="0.72"/>
<circle cx="126.4" cy="156.9" r="0.41" fill="#eef6f8" opacity="0.61"/>
<circle cx="136.7" cy="171.0" r="0.62" fill="#eef6f8" opacity="0.72"/>
<circle cx="114.0" cy="149.6" r="0.48" fill="#eef6f8" opacity="0.84"/>
<circle cx="146.2" cy="200.7" r="0.50" fill="#eef6f8" opacity="0.64"/>
<circle cx="124.6" cy="146.1" r="0.55" fill="#3e6470" opacity="0.69"/>
<circle cx="116.3" cy="193.3" r="0.60" fill="#eef6f8" opacity="0.68"/>
<circle cx="145.8" cy="217.3" r="0.46" fill="#eef6f8" opacity="0.87"/>
<circle cx="129.1" cy="184.5" r="0.62" fill="#eef6f8" opacity="0.87"/>
<circle cx="131.6" cy="233.2" r="0.33" fill="#3e6470" opacity="0.73"/>
<circle cx="127.7" cy="149.8" r="0.31" fill="#3e6470" opacity="0.63"/>
<circle cx="129.9" cy="225.2" r="0.43" fill="#eef6f8" opacity="0.61"/>
<circle cx="120.0" cy="196.2" r="0.61" fill="#eef6f8" opacity="0.60"/>
<circle cx="125.3" cy="167.6" r="0.55" fill="#3e6470" opacity="0.74"/>
<circle cx="134.6" cy="181.5" r="0.64" fill="#eef6f8" opacity="0.70"/>
<circle cx="114.3" cy="160.4" r="0.60" fill="#eef6f8" opacity="0.86"/>
<circle cx="120.0" cy="217.5" r="0.59" fill="#eef6f8" opacity="0.85"/>
<circle cx="134.8" cy="217.8" r="0.35" fill="#eef6f8" opacity="0.70"/>
<circle cx="133.5" cy="161.8" r="0.46" fill="#eef6f8" opacity="0.51"/>
<circle cx="123.9" cy="179.8" r="0.60" fill="#eef6f8" opacity="0.66"/>
<circle cx="147.4" cy="219.2" r="0.51" fill="#3e6470" opacity="0.67"/>
<circle cx="131.8" cy="217.7" r="0.56" fill="#eef6f8" opacity="0.77"/>
<circle cx="131.3" cy="170.9" r="0.38" fill="#eef6f8" opacity="0.64"/>
<circle cx="133.3" cy="214.1" r="0.39" fill="#3e6470" opacity="0.77"/>
<circle cx="122.6" cy="210.2" r="0.61" fill="#eef6f8" opacity="0.77"/>
<circle cx="146.5" cy="226.6" r="0.55" fill="#3e6470" opacity="0.70"/>
<circle cx="134.4" cy="164.0" r="0.57" fill="#3e6470" opacity="0.50"/>
<circle cx="147.1" cy="194.5" r="0.35" fill="#eef6f8" opacity="0.66"/>
<circle cx="119.2" cy="204.4" r="0.57" fill="#3e6470" opacity="0.65"/>
<circle cx="126.5" cy="154.9" r="0.47" fill="#3e6470" opacity="0.69"/>
<circle cx="126.1" cy="225.7" r="0.46" fill="#eef6f8" opacity="0.61"/>
<circle cx="134.8" cy="226.7" r="0.57" fill="#eef6f8" opacity="0.81"/>
<circle cx="120.9" cy="150.7" r="0.55" fill="#3e6470" opacity="0.75"/>
<circle cx="138.5" cy="182.9" r="0.54" fill="#eef6f8" opacity="0.86"/>
<circle cx="123.6" cy="170.5" r="0.59" fill="#3e6470" opacity="0.47"/>
<circle cx="114.1" cy="155.5" r="0.48" fill="#3e6470" opacity="0.47"/>
<circle cx="119.7" cy="199.1" r="0.51" fill="#3e6470" opacity="0.69"/>
<circle cx="115.1" cy="189.1" r="0.59" fill="#3e6470" opacity="0.53"/>
<circle cx="142.8" cy="203.7" r="0.37" fill="#3e6470" opacity="0.68"/>
<circle cx="142.4" cy="188.4" r="0.42" fill="#eef6f8" opacity="0.56"/>
<circle cx="116.2" cy="158.8" r="0.33" fill="#3e6470" opacity="0.70"/>
<circle cx="138.8" cy="219.3" r="0.51" fill="#3e6470" opacity="0.77"/>
<circle cx="146.5" cy="201.9" r="0.33" fill="#3e6470" opacity="0.44"/>
<circle cx="115.3" cy="163.8" r="0.51" fill="#eef6f8" opacity="0.77"/>
<circle cx="139.0" cy="152.6" r="0.54" fill="#eef6f8" opacity="0.65"/>
<circle cx="117.1" cy="199.3" r="0.59" fill="#eef6f8" opacity="0.70"/>
<circle cx="146.7" cy="231.0" r="0.62" fill="#eef6f8" opacity="0.79"/>
<circle cx="123.4" cy="155.6" r="0.47" fill="#eef6f8" opacity="0.79"/>
<circle cx="145.1" cy="179.8" r="0.52" fill="#eef6f8" opacity="0.78"/>
<circle cx="140.6" cy="197.4" r="0.47" fill="#eef6f8" opacity="0.84"/>
<circle cx="131.2" cy="149.6" r="0.43" fill="#eef6f8" opacity="0.77"/>
<circle cx="115.6" cy="169.7" r="0.52" fill="#eef6f8" opacity="0.89"/>
<circle cx="131.9" cy="180.2" r="0.33" fill="#3e6470" opacity="0.54"/>
<circle cx="141.4" cy="145.5" r="0.41" fill="#3e6470" opacity="0.41"/>
<circle cx="121.8" cy="186.7" r="0.53" fill="#eef6f8" opacity="0.52"/>
<circle cx="120.7" cy="233.7" r="0.52" fill="#eef6f8" opacity="0.53"/>
<circle cx="122.8" cy="231.9" r="0.45" fill="#3e6470" opacity="0.42"/>
<circle cx="126.7" cy="215.8" r="0.56" fill="#eef6f8" opacity="0.86"/>
<circle cx="135.6" cy="202.9" r="0.36" fill="#eef6f8" opacity="0.81"/>
<circle cx="127.5" cy="224.6" r="0.57" fill="#3e6470" opacity="0.55"/>
<circle cx="148.0" cy="213.8" r="0.34" fill="#3e6470" opacity="0.71"/>
<circle cx="127.8" cy="233.5" r="0.37" fill="#3e6470" opacity="0.57"/>
<circle cx="122.5" cy="187.8" r="0.58" fill="#eef6f8" opacity="0.55"/>
<circle cx="118.9" cy="186.6" r="0.48" fill="#eef6f8" opacity="0.86"/>
<circle cx="144.0" cy="162.9" r="0.64" fill="#eef6f8" opacity="0.88"/>
<circle cx="134.0" cy="157.4" r="0.67" fill="#eef6f8" opacity="0.88"/>
<circle cx="114.1" cy="161.8" r="0.44" fill="#eef6f8" opacity="0.80"/>
<circle cx="126.1" cy="215.5" r="0.53" fill="#eef6f8" opacity="0.89"/>
<circle cx="137.6" cy="153.2" r="0.58" fill="#eef6f8" opacity="0.65"/>
<circle cx="125.9" cy="188.5" r="0.59" fill="#3e6470" opacity="0.50"/>
<circle cx="132.9" cy="168.9" r="0.52" fill="#3e6470" opacity="0.45"/>
<circle cx="129.8" cy="209.2" r="0.62" fill="#eef6f8" opacity="0.67"/>
<circle cx="130.6" cy="200.6" r="0.32" fill="#3e6470" opacity="0.60"/>
<circle cx="114.3" cy="180.1" r="0.36" fill="#eef6f8" opacity="0.62"/>
<circle cx="128.8" cy="204.6" r="0.41" fill="#3e6470" opacity="0.61"/>
<circle cx="138.0" cy="230.3" r="0.60" fill="#3e6470" opacity="0.52"/>
<circle cx="118.8" cy="229.8" r="0.51" fill="#eef6f8" opacity="0.79"/>
<circle cx="131.5" cy="180.4" r="0.39" fill="#3e6470" opacity="0.62"/>
<circle cx="142.0" cy="157.6" r="0.52" fill="#eef6f8" opacity="0.73"/>
<circle cx="120.3" cy="186.3" r="0.38" fill="#eef6f8" opacity="0.64"/>
<circle cx="118.0" cy="233.0" r="0.45" fill="#eef6f8" opacity="0.81"/>
<circle cx="138.9" cy="168.9" r="0.49" fill="#3e6470" opacity="0.56"/>
<circle cx="135.0" cy="167.4" r="0.66" fill="#eef6f8" opacity="0.68"/>
<circle cx="144.4" cy="161.1" r="0.37" fill="#eef6f8" opacity="0.80"/>
<circle cx="132.6" cy="145.9" r="0.64" fill="#eef6f8" opacity="0.70"/>
<circle cx="143.5" cy="148.6" r="0.34" fill="#3e6470" opacity="0.69"/>
<circle cx="134.4" cy="200.7" r="0.68" fill="#eef6f8" opacity="0.54"/>
<circle cx="115.2" cy="207.2" r="0.37" fill="#eef6f8" opacity="0.68"/>
<circle cx="135.7" cy="226.2" r="0.32" fill="#3e6470" opacity="0.66"/>
<circle cx="142.5" cy="156.0" r="0.38" fill="#3e6470" opacity="0.52"/>
<circle cx="113.1" cy="214.0" r="0.57" fill="#3e6470" opacity="0.59"/>
<circle cx="118.4" cy="164.7" r="0.68" fill="#eef6f8" opacity="0.58"/>
<circle cx="116.1" cy="177.1" r="0.50" fill="#eef6f8" opacity="0.75"/>
<circle cx="135.8" cy="160.9" r="0.52" fill="#eef6f8" opacity="0.77"/>
<circle cx="128.7" cy="197.2" r="0.34" fill="#3e6470" opacity="0.51"/>
<circle cx="130.3" cy="193.8" r="0.47" fill="#3e6470" opacity="0.66"/>
<circle cx="127.7" cy="216.4" r="0.39" fill="#3e6470" opacity="0.44"/>
<circle cx="122.1" cy="177.5" r="0.38" fill="#3e6470" opacity="0.65"/>
<circle cx="135.4" cy="232.0" r="0.62" fill="#eef6f8" opacity="0.63"/>
<circle cx="116.6" cy="202.5" r="0.47" fill="#3e6470" opacity="0.42"/>
<circle cx="147.0" cy="180.0" r="0.52" fill="#3e6470" opacity="0.50"/>
<circle cx="127.3" cy="175.0" r="0.37" fill="#eef6f8" opacity="0.79"/>
<circle cx="127.4" cy="224.1" r="0.46" fill="#eef6f8" opacity="0.57"/>
<circle cx="146.0" cy="216.9" r="0.45" fill="#3e6470" opacity="0.44"/>
<circle cx="127.6" cy="165.6" r="0.55" fill="#eef6f8" opacity="0.62"/>
<circle cx="116.8" cy="191.6" r="0.58" fill="#3e6470" opacity="0.59"/>
<circle cx="116.6" cy="215.0" r="0.54" fill="#eef6f8" opacity="0.53"/>
<circle cx="147.6" cy="194.4" r="0.45" fill="#eef6f8" opacity="0.72"/>
<circle cx="147.1" cy="183.9" r="0.53" fill="#eef6f8" opacity="0.87"/>
<circle cx="126.4" cy="202.7" r="0.40" fill="#3e6470" opacity="0.72"/>
<circle cx="131.5" cy="157.7" r="0.68" fill="#eef6f8" opacity="0.69"/>
<circle cx="128.5" cy="228.5" r="0.45" fill="#3e6470" opacity="0.51"/>
<circle cx="139.0" cy="168.3" r="0.62" fill="#eef6f8" opacity="0.74"/>
<circle cx="117.7" cy="163.4" r="0.52" fill="#3e6470" opacity="0.44"/>
<circle cx="147.9" cy="157.1" r="0.38" fill="#eef6f8" opacity="0.68"/>
<circle cx="134.7" cy="223.0" r="0.59" fill="#eef6f8" opacity="0.54"/>
<circle cx="133.3" cy="167.9" r="0.37" fill="#eef6f8" opacity="0.79"/>
<circle cx="117.3" cy="214.5" r="0.56" fill="#eef6f8" opacity="0.76"/>
<circle cx="130.1" cy="224.5" r="0.38" fill="#3e6470" opacity="0.53"/>
<circle cx="143.7" cy="157.1" r="0.50" fill="#eef6f8" opacity="0.89"/>
<circle cx="117.5" cy="204.6" r="0.52" fill="#3e6470" opacity="0.40"/>
<circle cx="146.0" cy="173.4" r="0.50" fill="#3e6470" opacity="0.57"/>
<circle cx="142.3" cy="206.5" r="0.61" fill="#eef6f8" opacity="0.70"/>
<circle cx="137.9" cy="200.9" r="0.35" fill="#3e6470" opacity="0.60"/>
<circle cx="113.0" cy="217.0" r="0.55" fill="#3e6470" opacity="0.42"/>
<circle cx="131.7" cy="188.6" r="0.42" fill="#eef6f8" opacity="0.89"/>
<circle cx="142.8" cy="166.7" r="0.50" fill="#3e6470" opacity="0.55"/>
<circle cx="135.6" cy="165.8" r="0.35" fill="#eef6f8" opacity="0.76"/>
<circle cx="133.3" cy="212.7" r="0.43" fill="#3e6470" opacity="0.52"/>
<circle cx="138.7" cy="178.9" r="0.53" fill="#3e6470" opacity="0.58"/>
<circle cx="137.0" cy="150.6" r="0.64" fill="#eef6f8" opacity="0.56"/>
<circle cx="115.0" cy="146.3" r="0.33" fill="#3e6470" opacity="0.58"/>
<circle cx="128.3" cy="218.1" r="0.53" fill="#eef6f8" opacity="0.51"/>
<circle cx="140.8" cy="214.8" r="0.55" fill="#3e6470" opacity="0.65"/>
<circle cx="138.1" cy="222.4" r="0.31" fill="#3e6470" opacity="0.75"/>
<circle cx="147.6" cy="163.3" r="0.47" fill="#eef6f8" opacity="0.54"/>
<circle cx="125.9" cy="153.1" r="0.35" fill="#eef6f8" opacity="0.67"/>
<circle cx="123.5" cy="211.3" r="0.41" fill="#eef6f8" opacity="0.88"/>
<circle cx="144.3" cy="207.7" r="0.49" fill="#eef6f8" opacity="0.68"/>
<circle cx="127.3" cy="147.4" r="0.62" fill="#eef6f8" opacity="0.78"/>
<circle cx="143.1" cy="207.1" r="0.56" fill="#3e6470" opacity="0.77"/>
<circle cx="140.8" cy="182.9" r="0.50" fill="#3e6470" opacity="0.75"/>
<circle cx="138.0" cy="185.4" r="0.46" fill="#eef6f8" opacity="0.60"/>
<circle cx="136.9" cy="215.0" r="0.54" fill="#eef6f8" opacity="0.84"/>
<circle cx="125.8" cy="153.6" r="0.41" fill="#3e6470" opacity="0.46"/></g>
<g clip-path="url(#tealR)"><circle cx="167.5" cy="152.5" r="0.50" fill="#eef6f8" opacity="0.54"/>
<circle cx="158.2" cy="191.0" r="0.55" fill="#3e6470" opacity="0.53"/>
<circle cx="188.5" cy="157.7" r="0.35" fill="#eef6f8" opacity="0.52"/>
<circle cx="177.9" cy="205.7" r="0.63" fill="#eef6f8" opacity="0.68"/>
<circle cx="188.3" cy="195.2" r="0.35" fill="#3e6470" opacity="0.57"/>
<circle cx="172.5" cy="210.4" r="0.45" fill="#eef6f8" opacity="0.83"/>
<circle cx="160.3" cy="190.1" r="0.58" fill="#eef6f8" opacity="0.74"/>
<circle cx="161.1" cy="203.8" r="0.46" fill="#eef6f8" opacity="0.84"/>
<circle cx="183.7" cy="174.0" r="0.34" fill="#3e6470" opacity="0.61"/>
<circle cx="160.7" cy="197.5" r="0.49" fill="#3e6470" opacity="0.42"/>
<circle cx="174.9" cy="185.3" r="0.40" fill="#eef6f8" opacity="0.61"/>
<circle cx="172.8" cy="157.0" r="0.37" fill="#3e6470" opacity="0.52"/>
<circle cx="161.0" cy="173.5" r="0.39" fill="#3e6470" opacity="0.44"/>
<circle cx="169.4" cy="219.1" r="0.47" fill="#eef6f8" opacity="0.58"/>
<circle cx="180.5" cy="184.8" r="0.65" fill="#eef6f8" opacity="0.63"/>
<circle cx="180.6" cy="184.2" r="0.32" fill="#3e6470" opacity="0.49"/>
<circle cx="167.4" cy="170.8" r="0.45" fill="#3e6470" opacity="0.54"/>
<circle cx="174.7" cy="212.1" r="0.44" fill="#3e6470" opacity="0.66"/>
<circle cx="178.3" cy="180.8" r="0.40" fill="#eef6f8" opacity="0.68"/>
<circle cx="187.0" cy="173.7" r="0.56" fill="#eef6f8" opacity="0.74"/>
<circle cx="163.8" cy="183.7" r="0.31" fill="#3e6470" opacity="0.44"/>
<circle cx="182.9" cy="216.3" r="0.38" fill="#eef6f8" opacity="0.75"/>
<circle cx="167.4" cy="198.6" r="0.51" fill="#eef6f8" opacity="0.56"/>
<circle cx="169.0" cy="201.2" r="0.56" fill="#3e6470" opacity="0.74"/>
<circle cx="178.4" cy="212.2" r="0.52" fill="#eef6f8" opacity="0.63"/>
<circle cx="178.6" cy="159.9" r="0.41" fill="#3e6470" opacity="0.71"/>
<circle cx="189.1" cy="218.8" r="0.65" fill="#eef6f8" opacity="0.90"/>
<circle cx="162.3" cy="205.1" r="0.44" fill="#3e6470" opacity="0.51"/>
<circle cx="163.7" cy="181.2" r="0.42" fill="#3e6470" opacity="0.50"/>
<circle cx="178.4" cy="183.1" r="0.44" fill="#3e6470" opacity="0.51"/>
<circle cx="159.2" cy="210.1" r="0.37" fill="#3e6470" opacity="0.60"/>
<circle cx="177.2" cy="187.8" r="0.53" fill="#3e6470" opacity="0.52"/>
<circle cx="169.2" cy="195.4" r="0.68" fill="#eef6f8" opacity="0.52"/>
<circle cx="174.5" cy="171.4" r="0.31" fill="#3e6470" opacity="0.49"/>
<circle cx="190.6" cy="208.0" r="0.51" fill="#eef6f8" opacity="0.51"/>
<circle cx="162.0" cy="165.6" r="0.39" fill="#3e6470" opacity="0.50"/>
<circle cx="160.2" cy="159.8" r="0.52" fill="#3e6470" opacity="0.77"/>
<circle cx="185.6" cy="207.6" r="0.41" fill="#eef6f8" opacity="0.61"/>
<circle cx="160.2" cy="164.5" r="0.45" fill="#3e6470" opacity="0.40"/>
<circle cx="168.1" cy="212.3" r="0.52" fill="#3e6470" opacity="0.69"/>
<circle cx="188.1" cy="191.6" r="0.55" fill="#eef6f8" opacity="0.61"/>
<circle cx="159.2" cy="170.5" r="0.39" fill="#eef6f8" opacity="0.53"/>
<circle cx="166.2" cy="178.1" r="0.45" fill="#3e6470" opacity="0.73"/>
<circle cx="182.6" cy="194.1" r="0.49" fill="#eef6f8" opacity="0.63"/>
<circle cx="178.9" cy="212.7" r="0.39" fill="#3e6470" opacity="0.46"/>
<circle cx="158.3" cy="193.5" r="0.35" fill="#eef6f8" opacity="0.62"/>
<circle cx="165.5" cy="166.6" r="0.48" fill="#3e6470" opacity="0.51"/>
<circle cx="182.1" cy="166.7" r="0.34" fill="#3e6470" opacity="0.64"/>
<circle cx="181.3" cy="204.0" r="0.66" fill="#eef6f8" opacity="0.75"/>
<circle cx="180.8" cy="157.6" r="0.51" fill="#eef6f8" opacity="0.72"/>
<circle cx="161.1" cy="204.7" r="0.52" fill="#eef6f8" opacity="0.71"/>
<circle cx="185.7" cy="173.5" r="0.48" fill="#3e6470" opacity="0.66"/>
<circle cx="168.3" cy="171.8" r="0.56" fill="#eef6f8" opacity="0.76"/>
<circle cx="162.4" cy="183.7" r="0.36" fill="#3e6470" opacity="0.44"/>
<circle cx="188.7" cy="153.5" r="0.45" fill="#eef6f8" opacity="0.51"/>
<circle cx="166.9" cy="163.5" r="0.67" fill="#eef6f8" opacity="0.53"/>
<circle cx="169.6" cy="201.3" r="0.31" fill="#3e6470" opacity="0.49"/>
<circle cx="167.3" cy="215.5" r="0.44" fill="#eef6f8" opacity="0.69"/>
<circle cx="174.0" cy="162.6" r="0.52" fill="#3e6470" opacity="0.59"/>
<circle cx="175.7" cy="206.7" r="0.48" fill="#3e6470" opacity="0.42"/>
<circle cx="174.7" cy="199.0" r="0.59" fill="#eef6f8" opacity="0.65"/>
<circle cx="178.3" cy="195.6" r="0.58" fill="#3e6470" opacity="0.68"/>
<circle cx="181.4" cy="202.0" r="0.56" fill="#eef6f8" opacity="0.75"/>
<circle cx="160.0" cy="205.6" r="0.52" fill="#eef6f8" opacity="0.71"/>
<circle cx="181.8" cy="206.3" r="0.68" fill="#eef6f8" opacity="0.68"/>
<circle cx="176.7" cy="222.4" r="0.60" fill="#eef6f8" opacity="0.88"/>
<circle cx="160.8" cy="207.2" r="0.46" fill="#3e6470" opacity="0.72"/>
<circle cx="186.4" cy="162.4" r="0.57" fill="#eef6f8" opacity="0.78"/>
<circle cx="189.6" cy="209.0" r="0.32" fill="#3e6470" opacity="0.57"/>
<circle cx="188.1" cy="219.2" r="0.40" fill="#3e6470" opacity="0.71"/>
<circle cx="175.5" cy="199.4" r="0.56" fill="#3e6470" opacity="0.69"/>
<circle cx="190.0" cy="187.0" r="0.58" fill="#eef6f8" opacity="0.72"/>
<circle cx="159.6" cy="220.1" r="0.52" fill="#eef6f8" opacity="0.52"/>
<circle cx="164.3" cy="217.9" r="0.45" fill="#eef6f8" opacity="0.82"/>
<circle cx="166.0" cy="199.4" r="0.57" fill="#3e6470" opacity="0.59"/>
<circle cx="168.8" cy="170.4" r="0.35" fill="#eef6f8" opacity="0.55"/>
<circle cx="162.9" cy="174.3" r="0.58" fill="#3e6470" opacity="0.54"/>
<circle cx="166.2" cy="172.8" r="0.44" fill="#3e6470" opacity="0.45"/>
<circle cx="175.3" cy="171.1" r="0.62" fill="#eef6f8" opacity="0.54"/>
<circle cx="172.5" cy="206.4" r="0.56" fill="#3e6470" opacity="0.53"/>
<circle cx="189.2" cy="155.1" r="0.43" fill="#3e6470" opacity="0.40"/>
<circle cx="166.6" cy="222.2" r="0.52" fill="#3e6470" opacity="0.72"/>
<circle cx="158.2" cy="173.8" r="0.67" fill="#eef6f8" opacity="0.86"/>
<circle cx="162.9" cy="222.1" r="0.39" fill="#3e6470" opacity="0.43"/>
<circle cx="172.1" cy="189.0" r="0.46" fill="#eef6f8" opacity="0.88"/>
<circle cx="173.7" cy="173.8" r="0.37" fill="#3e6470" opacity="0.57"/>
<circle cx="161.4" cy="168.9" r="0.49" fill="#3e6470" opacity="0.61"/>
<circle cx="180.2" cy="199.7" r="0.41" fill="#3e6470" opacity="0.46"/>
<circle cx="159.0" cy="160.6" r="0.35" fill="#eef6f8" opacity="0.77"/>
<circle cx="169.1" cy="168.6" r="0.52" fill="#eef6f8" opacity="0.58"/>
<circle cx="186.1" cy="186.3" r="0.38" fill="#eef6f8" opacity="0.86"/>
<circle cx="177.1" cy="172.7" r="0.31" fill="#3e6470" opacity="0.76"/>
<circle cx="188.9" cy="199.2" r="0.50" fill="#eef6f8" opacity="0.83"/>
<circle cx="177.6" cy="166.8" r="0.37" fill="#eef6f8" opacity="0.71"/>
<circle cx="164.0" cy="183.6" r="0.57" fill="#3e6470" opacity="0.60"/>
<circle cx="183.9" cy="161.5" r="0.56" fill="#3e6470" opacity="0.59"/>
<circle cx="187.2" cy="173.1" r="0.40" fill="#3e6470" opacity="0.77"/>
<circle cx="185.6" cy="218.4" r="0.32" fill="#3e6470" opacity="0.51"/>
<circle cx="179.6" cy="216.5" r="0.31" fill="#3e6470" opacity="0.54"/>
<circle cx="169.4" cy="164.2" r="0.53" fill="#eef6f8" opacity="0.65"/>
<circle cx="166.8" cy="181.3" r="0.48" fill="#3e6470" opacity="0.70"/>
<circle cx="188.8" cy="154.2" r="0.33" fill="#3e6470" opacity="0.48"/>
<circle cx="182.4" cy="205.5" r="0.44" fill="#3e6470" opacity="0.69"/>
<circle cx="172.1" cy="165.8" r="0.39" fill="#eef6f8" opacity="0.51"/>
<circle cx="189.4" cy="219.5" r="0.49" fill="#eef6f8" opacity="0.61"/>
<circle cx="183.8" cy="187.0" r="0.66" fill="#eef6f8" opacity="0.87"/>
<circle cx="159.5" cy="184.6" r="0.57" fill="#eef6f8" opacity="0.64"/>
<circle cx="167.8" cy="173.5" r="0.45" fill="#3e6470" opacity="0.60"/>
<circle cx="180.5" cy="185.6" r="0.43" fill="#3e6470" opacity="0.72"/>
<circle cx="188.7" cy="196.1" r="0.54" fill="#3e6470" opacity="0.68"/>
<circle cx="164.4" cy="181.6" r="0.36" fill="#eef6f8" opacity="0.77"/>
<circle cx="168.8" cy="170.1" r="0.36" fill="#eef6f8" opacity="0.77"/>
<circle cx="169.8" cy="183.0" r="0.57" fill="#3e6470" opacity="0.68"/>
<circle cx="165.2" cy="222.2" r="0.55" fill="#eef6f8" opacity="0.76"/>
<circle cx="167.5" cy="215.1" r="0.51" fill="#3e6470" opacity="0.46"/>
<circle cx="185.5" cy="172.4" r="0.52" fill="#3e6470" opacity="0.53"/>
<circle cx="166.8" cy="175.5" r="0.50" fill="#3e6470" opacity="0.59"/>
<circle cx="176.5" cy="198.6" r="0.38" fill="#eef6f8" opacity="0.54"/>
<circle cx="177.2" cy="194.5" r="0.49" fill="#3e6470" opacity="0.74"/>
<circle cx="190.6" cy="187.2" r="0.51" fill="#eef6f8" opacity="0.65"/>
<circle cx="183.1" cy="192.8" r="0.68" fill="#eef6f8" opacity="0.71"/>
<circle cx="182.7" cy="190.9" r="0.47" fill="#3e6470" opacity="0.45"/>
<circle cx="162.3" cy="203.9" r="0.40" fill="#eef6f8" opacity="0.83"/>
<circle cx="182.7" cy="206.2" r="0.40" fill="#eef6f8" opacity="0.80"/>
<circle cx="165.1" cy="199.4" r="0.38" fill="#3e6470" opacity="0.40"/>
<circle cx="177.5" cy="208.1" r="0.60" fill="#3e6470" opacity="0.49"/>
<circle cx="182.1" cy="182.9" r="0.39" fill="#3e6470" opacity="0.49"/>
<circle cx="176.1" cy="195.1" r="0.48" fill="#3e6470" opacity="0.60"/>
<circle cx="179.5" cy="196.6" r="0.44" fill="#eef6f8" opacity="0.77"/>
<circle cx="170.8" cy="154.6" r="0.48" fill="#eef6f8" opacity="0.77"/>
<circle cx="179.7" cy="186.8" r="0.40" fill="#3e6470" opacity="0.54"/>
<circle cx="182.8" cy="200.2" r="0.66" fill="#eef6f8" opacity="0.51"/>
<circle cx="175.7" cy="212.9" r="0.36" fill="#3e6470" opacity="0.72"/>
<circle cx="175.6" cy="218.4" r="0.58" fill="#eef6f8" opacity="0.76"/>
<circle cx="190.7" cy="176.1" r="0.39" fill="#eef6f8" opacity="0.77"/>
<circle cx="160.3" cy="212.3" r="0.42" fill="#eef6f8" opacity="0.88"/>
<circle cx="174.4" cy="205.6" r="0.43" fill="#eef6f8" opacity="0.65"/>
<circle cx="190.4" cy="165.6" r="0.56" fill="#3e6470" opacity="0.67"/>
<circle cx="166.8" cy="203.9" r="0.48" fill="#3e6470" opacity="0.49"/>
<circle cx="178.1" cy="219.9" r="0.34" fill="#3e6470" opacity="0.48"/>
<circle cx="178.8" cy="155.4" r="0.48" fill="#eef6f8" opacity="0.60"/>
<circle cx="174.3" cy="157.2" r="0.50" fill="#3e6470" opacity="0.53"/>
<circle cx="177.2" cy="189.4" r="0.47" fill="#3e6470" opacity="0.66"/>
<circle cx="176.6" cy="210.4" r="0.39" fill="#eef6f8" opacity="0.85"/>
<circle cx="185.5" cy="152.6" r="0.48" fill="#3e6470" opacity="0.74"/>
<circle cx="181.1" cy="178.7" r="0.62" fill="#eef6f8" opacity="0.78"/>
<circle cx="173.5" cy="171.2" r="0.68" fill="#eef6f8" opacity="0.69"/>
<circle cx="164.9" cy="222.0" r="0.35" fill="#3e6470" opacity="0.48"/>
<circle cx="182.1" cy="179.5" r="0.59" fill="#eef6f8" opacity="0.61"/>
<circle cx="177.6" cy="166.5" r="0.54" fill="#eef6f8" opacity="0.67"/>
<circle cx="187.5" cy="162.2" r="0.38" fill="#3e6470" opacity="0.54"/>
<circle cx="161.5" cy="174.4" r="0.41" fill="#3e6470" opacity="0.73"/>
<circle cx="190.2" cy="201.4" r="0.50" fill="#eef6f8" opacity="0.57"/>
<circle cx="166.2" cy="175.8" r="0.59" fill="#eef6f8" opacity="0.71"/>
<circle cx="167.6" cy="170.1" r="0.39" fill="#eef6f8" opacity="0.68"/>
<circle cx="160.5" cy="189.1" r="0.62" fill="#eef6f8" opacity="0.61"/>
<circle cx="186.3" cy="219.1" r="0.37" fill="#3e6470" opacity="0.77"/>
<circle cx="173.6" cy="214.8" r="0.54" fill="#eef6f8" opacity="0.60"/>
<circle cx="183.0" cy="178.1" r="0.51" fill="#3e6470" opacity="0.57"/>
<circle cx="159.0" cy="171.1" r="0.48" fill="#eef6f8" opacity="0.73"/></g>
<!-- /teal speckles -->
<!-- rim -->
<path d="M121 231 Q150 244 184.5 221.5" stroke="#4a3a30" stroke-width="0.8" fill="none"/>
<path d="M128 234 Q155 242 186 222" stroke="#6a5a4a" stroke-width="0.6" fill="none"/>
<!-- spike & top parts -->
<path d="M145.9 137 L148.2 148.9 L147.8 153 L144.5 153 L143.9 148.9 Z" fill="#d29a68"/>
<rect x="144.6" y="156" width="3.2" height="3.5" fill="#6a4028"/>
<path d="M140 155.5 Q140.5 151 146 151.7 Q151.5 151 152 155" stroke="#5a3a2a" stroke-width="1.2" fill="none"/>
<path d="M157.2 148.9 L150 160.8 L148.4 165" stroke="#555" stroke-width="0.9" fill="none"/>
<path d="M137.5 163.5 Q141 162.5 145 164.5 M148.6 164.5 Q152 162.5 156.5 164" stroke="#4a4040" stroke-width="1.6" stroke-linecap="round" fill="none"/>
<ellipse cx="146" cy="237.5" rx="3.5" ry="1.8" fill="#3a2a20"/>

<!-- ground stake legs -->
<g stroke="#141414" stroke-width="1.9" fill="none" stroke-linejoin="round">
  <path d="M146 580 L124 582.3 Q120.6 582.8 120.5 586.5 L119.4 657.7"/>
  <path d="M146 578.5 L136.3 573 Q134.6 572.4 134.5 574.8 L129.4 642.6"/>
  <path d="M148 579 L177 582 Q179.8 582.5 179.7 586 L176.7 656.2"/>
</g>
<ellipse cx="147" cy="576.5" rx="3" ry="2.6" fill="#141414"/>

<!-- ===== CIRCLE 1: texture ===== -->
<g clip-path="url(#c1)">
  <path d="M260 140 L375 140 L375 250 L313.3 250 L313.3 241.7 C310 238.5 306 234 300 226.7 C295 220 290 214 288.3 211.7 C284 205 280 200 276.7 195 C273 190 270 185 268.3 181.7 L260 181.7 Z" fill="#a3cfca"/>
  <rect x="262" y="143" width="106" height="45" fill="url(#topfade)"/>
  <ellipse cx="300" cy="153" rx="16" ry="9" fill="url(#hl1)"/>
  <g clip-path="url(#tex1clip)">
  <line x1="282.2" y1="213.1" x2="279.3" y2="229.0" stroke="#e4f4f2" stroke-width="1.3" stroke-opacity="0.53"/>
<line x1="316.2" y1="195.0" x2="317.5" y2="204.7" stroke="#e4f4f2" stroke-width="0.6" stroke-opacity="0.25"/>
<line x1="357.4" y1="187.5" x2="362.3" y2="194.2" stroke="#e4f4f2" stroke-width="0.6" stroke-opacity="0.40"/>
<line x1="305.9" y1="188.8" x2="309.5" y2="209.8" stroke="#e4f4f2" stroke-width="1.3" stroke-opacity="0.49"/>
<line x1="329.6" y1="237.4" x2="330.8" y2="243.7" stroke="#e4f4f2" stroke-width="0.6" stroke-opacity="0.41"/>
<line x1="320.1" y1="179.1" x2="323.6" y2="192.4" stroke="#e4f4f2" stroke-width="0.8" stroke-opacity="0.48"/>
<line x1="312.1" y1="225.9" x2="312.3" y2="233.1" stroke="#e4f4f2" stroke-width="0.6" stroke-opacity="0.29"/>
<line x1="312.7" y1="226.5" x2="312.4" y2="235.8" stroke="#e4f4f2" stroke-width="0.8" stroke-opacity="0.56"/>
<line x1="306.1" y1="181.3" x2="308.6" y2="194.3" stroke="#e4f4f2" stroke-width="1.3" stroke-opacity="0.34"/>
<line x1="347.7" y1="161.1" x2="357.6" y2="175.5" stroke="#e4f4f2" stroke-width="1.3" stroke-opacity="0.25"/>
<line x1="272.9" y1="204.2" x2="268.8" y2="218.0" stroke="#e4f4f2" stroke-width="0.6" stroke-opacity="0.31"/>
<line x1="282.7" y1="179.6" x2="276.4" y2="199.5" stroke="#e4f4f2" stroke-width="1.0" stroke-opacity="0.52"/>
<line x1="357.1" y1="169.6" x2="362.9" y2="176.1" stroke="#e4f4f2" stroke-width="1.3" stroke-opacity="0.38"/>
<line x1="333.0" y1="211.7" x2="339.0" y2="231.2" stroke="#e4f4f2" stroke-width="0.8" stroke-opacity="0.39"/>
<line x1="323.9" y1="232.1" x2="326.6" y2="245.6" stroke="#e4f4f2" stroke-width="0.8" stroke-opacity="0.31"/>
<line x1="341.8" y1="192.9" x2="349.5" y2="210.7" stroke="#e4f4f2" stroke-width="0.6" stroke-opacity="0.55"/>
<line x1="330.5" y1="148.9" x2="337.4" y2="156.2" stroke="#e4f4f2" stroke-width="0.8" stroke-opacity="0.59"/>
<line x1="339.1" y1="192.4" x2="342.3" y2="201.9" stroke="#e4f4f2" stroke-width="1.3" stroke-opacity="0.26"/>
<line x1="286.8" y1="227.6" x2="282.5" y2="245.9" stroke="#e4f4f2" stroke-width="1.3" stroke-opacity="0.42"/>
<line x1="354.5" y1="192.2" x2="359.3" y2="198.9" stroke="#e4f4f2" stroke-width="1.0" stroke-opacity="0.30"/>
<line x1="336.6" y1="183.0" x2="340.1" y2="190.2" stroke="#e4f4f2" stroke-width="1.0" stroke-opacity="0.48"/>
<line x1="349.5" y1="202.8" x2="354.5" y2="211.5" stroke="#e4f4f2" stroke-width="1.3" stroke-opacity="0.51"/>
<line x1="345.6" y1="159.1" x2="351.4" y2="165.0" stroke="#e4f4f2" stroke-width="1.3" stroke-opacity="0.53"/>
<line x1="293.6" y1="175.3" x2="289.1" y2="195.9" stroke="#e4f4f2" stroke-width="1.3" stroke-opacity="0.42"/>
<line x1="287.5" y1="161.8" x2="285.1" y2="170.4" stroke="#e4f4f2" stroke-width="0.6" stroke-opacity="0.46"/>
<line x1="315.5" y1="218.6" x2="315.6" y2="225.5" stroke="#e4f4f2" stroke-width="0.6" stroke-opacity="0.39"/>
<line x1="350.7" y1="184.5" x2="358.6" y2="197.3" stroke="#e4f4f2" stroke-width="1.0" stroke-opacity="0.51"/>
<line x1="290.0" y1="160.8" x2="285.2" y2="177.8" stroke="#e4f4f2" stroke-width="1.0" stroke-opacity="0.54"/>
<line x1="344.7" y1="193.5" x2="351.9" y2="206.9" stroke="#e4f4f2" stroke-width="1.0" stroke-opacity="0.59"/>
<line x1="296.4" y1="214.0" x2="295.2" y2="228.4" stroke="#e4f4f2" stroke-width="0.8" stroke-opacity="0.27"/>
<line x1="300.8" y1="176.7" x2="298.9" y2="198.5" stroke="#e4f4f2" stroke-width="0.6" stroke-opacity="0.47"/>
<line x1="315.5" y1="238.3" x2="316.6" y2="255.2" stroke="#e4f4f2" stroke-width="1.3" stroke-opacity="0.41"/>
<line x1="316.3" y1="231.3" x2="316.2" y2="238.4" stroke="#e4f4f2" stroke-width="0.6" stroke-opacity="0.34"/>
<line x1="335.0" y1="225.6" x2="339.3" y2="242.6" stroke="#e4f4f2" stroke-width="1.3" stroke-opacity="0.53"/>
<line x1="305.1" y1="177.6" x2="304.3" y2="187.2" stroke="#e4f4f2" stroke-width="0.6" stroke-opacity="0.42"/>
<line x1="314.2" y1="215.8" x2="317.1" y2="235.8" stroke="#e4f4f2" stroke-width="1.3" stroke-opacity="0.47"/>
<line x1="340.3" y1="211.0" x2="347.8" y2="229.3" stroke="#e4f4f2" stroke-width="0.8" stroke-opacity="0.42"/>
<line x1="314.9" y1="175.5" x2="318.0" y2="187.2" stroke="#e4f4f2" stroke-width="0.6" stroke-opacity="0.31"/>
<line x1="285.8" y1="231.3" x2="282.3" y2="248.4" stroke="#e4f4f2" stroke-width="1.0" stroke-opacity="0.47"/>
<line x1="302.8" y1="218.3" x2="301.8" y2="240.0" stroke="#e4f4f2" stroke-width="0.8" stroke-opacity="0.50"/>
<line x1="286.2" y1="178.4" x2="281.9" y2="194.1" stroke="#e4f4f2" stroke-width="0.6" stroke-opacity="0.36"/>
<line x1="290.9" y1="228.3" x2="290.3" y2="236.8" stroke="#e4f4f2" stroke-width="0.8" stroke-opacity="0.33"/>
<line x1="333.4" y1="215.7" x2="336.2" y2="223.7" stroke="#e4f4f2" stroke-width="1.3" stroke-opacity="0.47"/>
<line x1="293.5" y1="162.6" x2="290.1" y2="174.3" stroke="#e4f4f2" stroke-width="1.0" stroke-opacity="0.28"/>
<line x1="300.4" y1="207.2" x2="299.7" y2="227.1" stroke="#e4f4f2" stroke-width="0.6" stroke-opacity="0.39"/>
<line x1="309.2" y1="189.6" x2="310.0" y2="211.4" stroke="#e4f4f2" stroke-width="0.8" stroke-opacity="0.28"/>
<line x1="296.3" y1="190.0" x2="294.5" y2="210.2" stroke="#e4f4f2" stroke-width="1.3" stroke-opacity="0.44"/>
<line x1="305.5" y1="199.6" x2="305.3" y2="209.2" stroke="#e4f4f2" stroke-width="1.3" stroke-opacity="0.56"/>
<line x1="267.7" y1="202.5" x2="264.3" y2="209.0" stroke="#e4f4f2" stroke-width="0.8" stroke-opacity="0.30"/>
<line x1="314.7" y1="197.1" x2="317.4" y2="211.4" stroke="#e4f4f2" stroke-width="1.3" stroke-opacity="0.41"/>
<line x1="344.4" y1="178.6" x2="350.2" y2="187.2" stroke="#e4f4f2" stroke-width="0.6" stroke-opacity="0.56"/>
<line x1="316.2" y1="211.9" x2="316.8" y2="221.0" stroke="#e4f4f2" stroke-width="1.0" stroke-opacity="0.37"/>
<line x1="281.9" y1="202.9" x2="279.1" y2="212.9" stroke="#e4f4f2" stroke-width="0.6" stroke-opacity="0.29"/>
<line x1="357.2" y1="198.3" x2="364.6" y2="208.4" stroke="#e4f4f2" stroke-width="0.8" stroke-opacity="0.50"/>
<line x1="317.4" y1="153.2" x2="323.3" y2="171.5" stroke="#e4f4f2" stroke-width="1.0" stroke-opacity="0.46"/>
<line x1="328.0" y1="208.5" x2="329.4" y2="214.7" stroke="#e4f4f2" stroke-width="1.0" stroke-opacity="0.42"/>
<line x1="281.9" y1="228.9" x2="276.5" y2="247.0" stroke="#e4f4f2" stroke-width="0.8" stroke-opacity="0.49"/>
<line x1="329.5" y1="205.9" x2="334.4" y2="220.7" stroke="#e4f4f2" stroke-width="0.6" stroke-opacity="0.59"/>
<line x1="304.2" y1="237.8" x2="304.0" y2="258.8" stroke="#e4f4f2" stroke-width="1.0" stroke-opacity="0.31"/>
<line x1="302.9" y1="218.9" x2="302.8" y2="227.8" stroke="#e4f4f2" stroke-width="1.3" stroke-opacity="0.32"/>
<line x1="342.0" y1="218.0" x2="349.2" y2="236.8" stroke="#e4f4f2" stroke-width="1.3" stroke-opacity="0.46"/>
<line x1="300.5" y1="211.3" x2="299.1" y2="231.2" stroke="#e4f4f2" stroke-width="0.8" stroke-opacity="0.60"/>
<line x1="338.5" y1="218.2" x2="342.0" y2="226.9" stroke="#e4f4f2" stroke-width="1.0" stroke-opacity="0.29"/>
<line x1="289.5" y1="187.1" x2="286.3" y2="203.0" stroke="#e4f4f2" stroke-width="1.3" stroke-opacity="0.51"/>
<line x1="329.8" y1="170.3" x2="335.7" y2="181.7" stroke="#e4f4f2" stroke-width="1.0" stroke-opacity="0.26"/>
<line x1="350.2" y1="165.7" x2="361.7" y2="180.2" stroke="#e4f4f2" stroke-width="1.0" stroke-opacity="0.46"/>
<line x1="344.7" y1="217.7" x2="349.9" y2="234.6" stroke="#e4f4f2" stroke-width="1.3" stroke-opacity="0.26"/>
<line x1="342.2" y1="230.4" x2="345.5" y2="240.6" stroke="#e4f4f2" stroke-width="1.3" stroke-opacity="0.32"/>
<line x1="288.3" y1="217.4" x2="285.6" y2="236.3" stroke="#e4f4f2" stroke-width="1.0" stroke-opacity="0.57"/>
<line x1="279.0" y1="178.2" x2="274.5" y2="189.0" stroke="#e4f4f2" stroke-width="1.3" stroke-opacity="0.46"/>
<line x1="333.9" y1="230.3" x2="339.0" y2="247.6" stroke="#e4f4f2" stroke-width="1.3" stroke-opacity="0.53"/>
<line x1="273.6" y1="175.7" x2="265.6" y2="189.7" stroke="#e4f4f2" stroke-width="0.8" stroke-opacity="0.51"/>
<line x1="326.5" y1="208.8" x2="328.5" y2="222.9" stroke="#e4f4f2" stroke-width="1.3" stroke-opacity="0.33"/>
<line x1="333.3" y1="178.3" x2="338.6" y2="193.8" stroke="#e4f4f2" stroke-width="1.0" stroke-opacity="0.25"/>
<line x1="348.6" y1="173.3" x2="354.6" y2="181.5" stroke="#e4f4f2" stroke-width="0.6" stroke-opacity="0.60"/>
<line x1="288.8" y1="214.5" x2="286.9" y2="228.2" stroke="#e4f4f2" stroke-width="1.0" stroke-opacity="0.40"/>
<line x1="280.0" y1="184.9" x2="276.4" y2="197.5" stroke="#e4f4f2" stroke-width="0.8" stroke-opacity="0.40"/>
<line x1="288.8" y1="229.0" x2="287.7" y2="249.4" stroke="#e4f4f2" stroke-width="0.8" stroke-opacity="0.52"/>
<line x1="354.4" y1="218.9" x2="359.3" y2="229.3" stroke="#e4f4f2" stroke-width="1.0" stroke-opacity="0.36"/>
<line x1="298.2" y1="166.6" x2="297.2" y2="173.3" stroke="#e4f4f2" stroke-width="0.8" stroke-opacity="0.32"/>
<line x1="281.0" y1="199.5" x2="279.1" y2="207.9" stroke="#e4f4f2" stroke-width="0.6" stroke-opacity="0.52"/>
<line x1="285.9" y1="214.1" x2="284.3" y2="228.6" stroke="#e4f4f2" stroke-width="0.6" stroke-opacity="0.52"/>
<line x1="287.5" y1="201.2" x2="286.6" y2="211.0" stroke="#e4f4f2" stroke-width="0.6" stroke-opacity="0.39"/>
<line x1="333.3" y1="232.2" x2="335.7" y2="244.6" stroke="#e4f4f2" stroke-width="1.3" stroke-opacity="0.27"/>
<line x1="305.6" y1="224.5" x2="304.3" y2="238.2" stroke="#e4f4f2" stroke-width="1.0" stroke-opacity="0.52"/>
<line x1="336.5" y1="197.5" x2="339.4" y2="205.6" stroke="#e4f4f2" stroke-width="1.0" stroke-opacity="0.38"/>
<line x1="314.1" y1="171.4" x2="317.6" y2="191.7" stroke="#e4f4f2" stroke-width="0.6" stroke-opacity="0.42"/>
<line x1="346.4" y1="159.0" x2="358.0" y2="172.2" stroke="#e4f4f2" stroke-width="1.0" stroke-opacity="0.36"/>
<line x1="277.0" y1="210.4" x2="273.2" y2="222.9" stroke="#e4f4f2" stroke-width="1.3" stroke-opacity="0.43"/>
<line x1="287.4" y1="232.1" x2="283.6" y2="249.3" stroke="#e4f4f2" stroke-width="0.6" stroke-opacity="0.42"/>
<line x1="295.8" y1="177.8" x2="294.0" y2="186.6" stroke="#e4f4f2" stroke-width="0.8" stroke-opacity="0.31"/>
<line x1="287.3" y1="161.7" x2="280.5" y2="182.0" stroke="#e4f4f2" stroke-width="0.6" stroke-opacity="0.48"/>
<line x1="288.6" y1="209.3" x2="286.4" y2="222.3" stroke="#e4f4f2" stroke-width="1.3" stroke-opacity="0.32"/>
<line x1="334.7" y1="233.6" x2="337.6" y2="242.0" stroke="#e4f4f2" stroke-width="1.0" stroke-opacity="0.42"/>
<line x1="298.2" y1="232.9" x2="295.8" y2="252.3" stroke="#e4f4f2" stroke-width="0.6" stroke-opacity="0.56"/>
<line x1="298.1" y1="182.7" x2="294.1" y2="204.0" stroke="#e4f4f2" stroke-width="0.8" stroke-opacity="0.50"/>
<line x1="268.7" y1="202.1" x2="259.9" y2="220.8" stroke="#e4f4f2" stroke-width="0.8" stroke-opacity="0.53"/>
<line x1="314.9" y1="214.3" x2="313.6" y2="228.4" stroke="#e4f4f2" stroke-width="0.8" stroke-opacity="0.48"/>
<line x1="308.2" y1="210.6" x2="308.0" y2="221.3" stroke="#e4f4f2" stroke-width="0.8" stroke-opacity="0.50"/>
<line x1="339.9" y1="161.8" x2="344.3" y2="168.2" stroke="#e4f4f2" stroke-width="1.3" stroke-opacity="0.27"/>
<line x1="328.4" y1="156.4" x2="335.6" y2="168.6" stroke="#e4f4f2" stroke-width="1.0" stroke-opacity="0.39"/>
<line x1="304.4" y1="216.9" x2="303.8" y2="224.7" stroke="#e4f4f2" stroke-width="1.0" stroke-opacity="0.25"/>
<line x1="306.1" y1="223.1" x2="309.3" y2="242.9" stroke="#e4f4f2" stroke-width="1.0" stroke-opacity="0.55"/>
<line x1="279.2" y1="179.3" x2="270.8" y2="198.5" stroke="#e4f4f2" stroke-width="1.0" stroke-opacity="0.32"/>
<line x1="343.9" y1="161.3" x2="355.6" y2="179.3" stroke="#e4f4f2" stroke-width="0.8" stroke-opacity="0.43"/>
<line x1="297.8" y1="212.4" x2="296.8" y2="222.1" stroke="#e4f4f2" stroke-width="0.8" stroke-opacity="0.55"/>
<line x1="326.9" y1="162.1" x2="332.4" y2="179.4" stroke="#e4f4f2" stroke-width="1.0" stroke-opacity="0.39"/>
<line x1="298.0" y1="216.8" x2="296.0" y2="228.7" stroke="#e4f4f2" stroke-width="1.0" stroke-opacity="0.51"/>
<line x1="337.5" y1="169.4" x2="343.4" y2="178.8" stroke="#e4f4f2" stroke-width="0.8" stroke-opacity="0.60"/>
<line x1="356.0" y1="190.7" x2="364.5" y2="205.5" stroke="#e4f4f2" stroke-width="0.8" stroke-opacity="0.32"/>
<line x1="326.4" y1="241.7" x2="329.2" y2="261.6" stroke="#e4f4f2" stroke-width="1.3" stroke-opacity="0.57"/>
<line x1="355.1" y1="205.9" x2="358.2" y2="211.2" stroke="#e4f4f2" stroke-width="0.6" stroke-opacity="0.60"/>
<line x1="317.1" y1="216.2" x2="317.1" y2="222.3" stroke="#e4f4f2" stroke-width="1.3" stroke-opacity="0.28"/>
<line x1="305.9" y1="241.9" x2="307.9" y2="261.6" stroke="#e4f4f2" stroke-width="1.3" stroke-opacity="0.42"/>
<line x1="292.0" y1="200.9" x2="288.6" y2="216.8" stroke="#e4f4f2" stroke-width="0.8" stroke-opacity="0.31"/>
<line x1="306.3" y1="176.2" x2="306.6" y2="186.4" stroke="#e4f4f2" stroke-width="1.0" stroke-opacity="0.39"/>
<line x1="339.0" y1="181.6" x2="344.3" y2="194.7" stroke="#e4f4f2" stroke-width="0.8" stroke-opacity="0.41"/>
<line x1="312.3" y1="196.0" x2="313.7" y2="205.8" stroke="#e4f4f2" stroke-width="1.3" stroke-opacity="0.35"/>
<line x1="285.1" y1="201.6" x2="283.4" y2="212.5" stroke="#e4f4f2" stroke-width="1.3" stroke-opacity="0.51"/>
<line x1="328.0" y1="236.4" x2="330.3" y2="246.4" stroke="#e4f4f2" stroke-width="0.8" stroke-opacity="0.59"/>
<line x1="317.8" y1="234.2" x2="318.6" y2="241.7" stroke="#e4f4f2" stroke-width="1.3" stroke-opacity="0.40"/>
<line x1="318.4" y1="169.9" x2="321.4" y2="179.5" stroke="#e4f4f2" stroke-width="0.6" stroke-opacity="0.55"/>
<line x1="321.2" y1="151.6" x2="329.9" y2="171.7" stroke="#e4f4f2" stroke-width="0.8" stroke-opacity="0.47"/>
<line x1="349.0" y1="184.4" x2="357.4" y2="197.9" stroke="#e4f4f2" stroke-width="0.8" stroke-opacity="0.40"/>
<line x1="302.9" y1="164.8" x2="299.6" y2="181.2" stroke="#e4f4f2" stroke-width="1.3" stroke-opacity="0.42"/>
<line x1="323.5" y1="233.1" x2="324.6" y2="239.9" stroke="#e4f4f2" stroke-width="1.0" stroke-opacity="0.34"/>
<line x1="360.2" y1="197.4" x2="368.1" y2="209.2" stroke="#e4f4f2" stroke-width="0.8" stroke-opacity="0.55"/>
<line x1="276.1" y1="209.7" x2="269.3" y2="229.1" stroke="#e4f4f2" stroke-width="0.8" stroke-opacity="0.52"/>
<line x1="282.9" y1="203.8" x2="278.9" y2="220.9" stroke="#e4f4f2" stroke-width="0.6" stroke-opacity="0.55"/>
<line x1="313.1" y1="229.7" x2="314.6" y2="245.3" stroke="#e4f4f2" stroke-width="0.8" stroke-opacity="0.59"/>
<line x1="302.9" y1="175.2" x2="301.6" y2="193.7" stroke="#e4f4f2" stroke-width="1.3" stroke-opacity="0.48"/>
<line x1="309.9" y1="185.1" x2="311.5" y2="206.4" stroke="#e4f4f2" stroke-width="1.0" stroke-opacity="0.29"/>
<line x1="331.6" y1="208.7" x2="333.9" y2="227.8" stroke="#e4f4f2" stroke-width="0.6" stroke-opacity="0.29"/>
<line x1="303.4" y1="209.5" x2="301.4" y2="224.1" stroke="#e4f4f2" stroke-width="1.3" stroke-opacity="0.35"/>
<line x1="355.6" y1="201.9" x2="360.0" y2="209.0" stroke="#e4f4f2" stroke-width="0.6" stroke-opacity="0.41"/>
<line x1="306.4" y1="189.8" x2="306.7" y2="203.4" stroke="#e4f4f2" stroke-width="1.0" stroke-opacity="0.56"/>
<line x1="344.5" y1="185.8" x2="350.8" y2="200.9" stroke="#e4f4f2" stroke-width="1.0" stroke-opacity="0.33"/>
<line x1="291.8" y1="201.8" x2="289.0" y2="216.4" stroke="#e4f4f2" stroke-width="0.8" stroke-opacity="0.52"/>
<line x1="303.3" y1="179.1" x2="301.9" y2="200.1" stroke="#e4f4f2" stroke-width="1.0" stroke-opacity="0.54"/>
<line x1="293.9" y1="226.3" x2="292.6" y2="243.2" stroke="#e4f4f2" stroke-width="0.6" stroke-opacity="0.59"/>
<line x1="274.8" y1="172.4" x2="265.1" y2="185.8" stroke="#e4f4f2" stroke-width="1.3" stroke-opacity="0.36"/>
<line x1="348.7" y1="187.0" x2="356.0" y2="196.8" stroke="#e4f4f2" stroke-width="1.0" stroke-opacity="0.28"/>
<line x1="349.2" y1="162.8" x2="360.6" y2="176.8" stroke="#e4f4f2" stroke-width="1.3" stroke-opacity="0.44"/>
<line x1="360.7" y1="195.8" x2="368.2" y2="207.5" stroke="#e4f4f2" stroke-width="0.8" stroke-opacity="0.28"/>
<line x1="326.5" y1="238.3" x2="328.8" y2="255.6" stroke="#e4f4f2" stroke-width="0.8" stroke-opacity="0.33"/>
<line x1="329.5" y1="165.4" x2="334.7" y2="175.5" stroke="#e4f4f2" stroke-width="1.3" stroke-opacity="0.46"/>
<line x1="338.1" y1="201.1" x2="345.7" y2="220.5" stroke="#e4f4f2" stroke-width="1.0" stroke-opacity="0.56"/>
<line x1="340.1" y1="228.9" x2="345.6" y2="248.8" stroke="#e4f4f2" stroke-width="1.3" stroke-opacity="0.40"/>
<line x1="338.8" y1="172.2" x2="341.9" y2="177.7" stroke="#e4f4f2" stroke-width="1.3" stroke-opacity="0.44"/>
<line x1="323.7" y1="176.4" x2="329.0" y2="192.9" stroke="#e4f4f2" stroke-width="0.6" stroke-opacity="0.45"/>
<line x1="292.4" y1="207.1" x2="291.5" y2="213.8" stroke="#e4f4f2" stroke-width="0.6" stroke-opacity="0.30"/>
<line x1="324.6" y1="162.1" x2="327.4" y2="168.0" stroke="#e4f4f2" stroke-width="1.0" stroke-opacity="0.43"/>
<line x1="281.8" y1="205.9" x2="279.2" y2="215.2" stroke="#e4f4f2" stroke-width="1.3" stroke-opacity="0.49"/>
<line x1="342.6" y1="223.3" x2="346.4" y2="234.2" stroke="#e4f4f2" stroke-width="1.3" stroke-opacity="0.42"/>
<line x1="299.3" y1="197.7" x2="297.2" y2="208.9" stroke="#e4f4f2" stroke-width="1.3" stroke-opacity="0.58"/>
<line x1="282.1" y1="197.5" x2="278.4" y2="210.7" stroke="#e4f4f2" stroke-width="1.0" stroke-opacity="0.58"/>
<line x1="347.3" y1="159.1" x2="362.6" y2="172.9" stroke="#e4f4f2" stroke-width="0.8" stroke-opacity="0.32"/>
<line x1="301.9" y1="192.8" x2="301.9" y2="199.6" stroke="#e4f4f2" stroke-width="0.8" stroke-opacity="0.30"/>
<line x1="300.1" y1="186.5" x2="299.1" y2="207.8" stroke="#e4f4f2" stroke-width="0.8" stroke-opacity="0.55"/>
<line x1="324.8" y1="231.1" x2="326.9" y2="250.9" stroke="#e4f4f2" stroke-width="0.6" stroke-opacity="0.56"/>
<line x1="292.1" y1="197.3" x2="290.6" y2="213.4" stroke="#e4f4f2" stroke-width="1.0" stroke-opacity="0.37"/>
<line x1="320.0" y1="218.3" x2="321.2" y2="225.0" stroke="#e4f4f2" stroke-width="0.6" stroke-opacity="0.53"/>
<line x1="281.4" y1="211.4" x2="279.9" y2="224.6" stroke="#e4f4f2" stroke-width="1.3" stroke-opacity="0.40"/>
<line x1="329.3" y1="160.0" x2="339.1" y2="177.4" stroke="#e4f4f2" stroke-width="0.6" stroke-opacity="0.37"/>
<line x1="277.7" y1="200.2" x2="273.8" y2="213.8" stroke="#e4f4f2" stroke-width="0.6" stroke-opacity="0.35"/>
<line x1="312.1" y1="211.5" x2="312.2" y2="218.6" stroke="#e4f4f2" stroke-width="1.0" stroke-opacity="0.41"/>
<line x1="328.0" y1="188.9" x2="333.6" y2="209.9" stroke="#e4f4f2" stroke-width="1.3" stroke-opacity="0.33"/>
<line x1="329.9" y1="163.9" x2="337.7" y2="177.4" stroke="#e4f4f2" stroke-width="0.8" stroke-opacity="0.50"/>
<line x1="314.1" y1="205.2" x2="313.7" y2="217.3" stroke="#e4f4f2" stroke-width="1.3" stroke-opacity="0.52"/>
<line x1="350.2" y1="199.5" x2="359.2" y2="219.5" stroke="#e4f4f2" stroke-width="1.3" stroke-opacity="0.38"/>
<line x1="296.9" y1="164.9" x2="296.1" y2="172.0" stroke="#5a7a80" stroke-width="0.5" stroke-opacity="0.40"/>
<line x1="302.6" y1="211.9" x2="302.8" y2="223.8" stroke="#5a7a80" stroke-width="0.9" stroke-opacity="0.36"/>
<line x1="283.0" y1="219.7" x2="282.5" y2="227.6" stroke="#5a7a80" stroke-width="0.5" stroke-opacity="0.37"/>
<line x1="289.3" y1="211.6" x2="287.5" y2="219.7" stroke="#5a7a80" stroke-width="0.9" stroke-opacity="0.37"/>
<line x1="281.6" y1="165.5" x2="279.1" y2="173.5" stroke="#5a7a80" stroke-width="0.9" stroke-opacity="0.32"/>
<line x1="326.0" y1="158.6" x2="331.4" y2="168.0" stroke="#5a7a80" stroke-width="0.9" stroke-opacity="0.25"/>
<line x1="342.5" y1="228.7" x2="348.3" y2="241.3" stroke="#5a7a80" stroke-width="0.7" stroke-opacity="0.23"/>
<line x1="285.3" y1="221.7" x2="283.6" y2="234.7" stroke="#5a7a80" stroke-width="0.9" stroke-opacity="0.22"/>
<line x1="283.4" y1="180.5" x2="281.0" y2="188.1" stroke="#5a7a80" stroke-width="0.9" stroke-opacity="0.33"/>
<line x1="307.3" y1="237.7" x2="307.7" y2="242.1" stroke="#5a7a80" stroke-width="0.5" stroke-opacity="0.44"/>
<line x1="328.4" y1="190.5" x2="330.3" y2="194.9" stroke="#5a7a80" stroke-width="0.7" stroke-opacity="0.30"/>
<line x1="327.8" y1="234.7" x2="330.9" y2="244.2" stroke="#5a7a80" stroke-width="0.5" stroke-opacity="0.28"/>
<line x1="313.1" y1="220.1" x2="313.4" y2="232.9" stroke="#5a7a80" stroke-width="0.5" stroke-opacity="0.28"/>
<line x1="353.7" y1="213.5" x2="356.4" y2="218.2" stroke="#5a7a80" stroke-width="0.7" stroke-opacity="0.29"/>
<line x1="309.5" y1="155.6" x2="310.0" y2="163.1" stroke="#5a7a80" stroke-width="0.5" stroke-opacity="0.31"/>
<line x1="328.7" y1="224.2" x2="329.4" y2="233.3" stroke="#5a7a80" stroke-width="0.7" stroke-opacity="0.31"/>
<line x1="321.3" y1="159.6" x2="326.7" y2="172.3" stroke="#5a7a80" stroke-width="0.7" stroke-opacity="0.40"/>
<line x1="329.2" y1="233.5" x2="330.8" y2="245.3" stroke="#5a7a80" stroke-width="0.5" stroke-opacity="0.29"/>
<line x1="324.6" y1="192.5" x2="326.6" y2="199.5" stroke="#5a7a80" stroke-width="0.7" stroke-opacity="0.25"/>
<line x1="325.5" y1="147.8" x2="332.2" y2="158.6" stroke="#5a7a80" stroke-width="0.9" stroke-opacity="0.27"/>
<line x1="304.2" y1="183.2" x2="303.5" y2="191.5" stroke="#5a7a80" stroke-width="0.5" stroke-opacity="0.22"/>
<line x1="344.2" y1="189.6" x2="348.4" y2="200.1" stroke="#5a7a80" stroke-width="0.5" stroke-opacity="0.43"/>
<line x1="295.5" y1="157.1" x2="294.6" y2="163.1" stroke="#5a7a80" stroke-width="0.5" stroke-opacity="0.26"/>
<line x1="328.8" y1="206.1" x2="333.7" y2="218.6" stroke="#5a7a80" stroke-width="0.7" stroke-opacity="0.39"/>
<line x1="320.0" y1="177.9" x2="324.5" y2="185.8" stroke="#5a7a80" stroke-width="0.5" stroke-opacity="0.28"/>
<line x1="327.5" y1="229.5" x2="329.3" y2="237.9" stroke="#5a7a80" stroke-width="0.5" stroke-opacity="0.31"/>
<line x1="316.5" y1="230.8" x2="317.1" y2="242.9" stroke="#5a7a80" stroke-width="0.7" stroke-opacity="0.25"/>
<line x1="302.4" y1="216.8" x2="300.8" y2="226.3" stroke="#5a7a80" stroke-width="0.9" stroke-opacity="0.32"/>
<line x1="268.9" y1="200.1" x2="265.7" y2="212.2" stroke="#5a7a80" stroke-width="0.7" stroke-opacity="0.23"/>
<line x1="281.9" y1="190.2" x2="277.0" y2="202.5" stroke="#5a7a80" stroke-width="0.9" stroke-opacity="0.44"/>
<line x1="323.9" y1="220.7" x2="325.4" y2="226.3" stroke="#5a7a80" stroke-width="0.7" stroke-opacity="0.36"/>
<line x1="317.9" y1="235.6" x2="318.0" y2="239.7" stroke="#5a7a80" stroke-width="0.5" stroke-opacity="0.27"/>
<line x1="292.4" y1="178.0" x2="290.1" y2="187.1" stroke="#5a7a80" stroke-width="0.5" stroke-opacity="0.40"/>
<line x1="318.9" y1="176.7" x2="320.7" y2="184.4" stroke="#5a7a80" stroke-width="0.9" stroke-opacity="0.20"/>
<line x1="356.0" y1="213.6" x2="359.3" y2="221.6" stroke="#5a7a80" stroke-width="0.5" stroke-opacity="0.44"/>
<line x1="297.7" y1="235.0" x2="296.7" y2="243.5" stroke="#5a7a80" stroke-width="0.9" stroke-opacity="0.27"/>
<line x1="336.2" y1="190.2" x2="340.7" y2="199.0" stroke="#5a7a80" stroke-width="0.7" stroke-opacity="0.30"/>
<line x1="308.3" y1="235.5" x2="307.2" y2="240.9" stroke="#5a7a80" stroke-width="0.9" stroke-opacity="0.23"/>
<line x1="348.6" y1="206.1" x2="352.4" y2="214.3" stroke="#5a7a80" stroke-width="0.5" stroke-opacity="0.38"/>
<line x1="307.3" y1="218.1" x2="306.4" y2="226.0" stroke="#5a7a80" stroke-width="0.5" stroke-opacity="0.28"/>
<line x1="332.7" y1="223.7" x2="335.4" y2="235.3" stroke="#5a7a80" stroke-width="0.7" stroke-opacity="0.36"/>
<line x1="288.8" y1="198.7" x2="285.8" y2="212.2" stroke="#5a7a80" stroke-width="0.5" stroke-opacity="0.23"/>
<line x1="314.2" y1="237.1" x2="314.7" y2="242.0" stroke="#5a7a80" stroke-width="0.7" stroke-opacity="0.20"/>
<line x1="339.8" y1="221.9" x2="341.4" y2="226.8" stroke="#5a7a80" stroke-width="0.9" stroke-opacity="0.39"/>
<line x1="355.6" y1="217.5" x2="361.7" y2="228.5" stroke="#5a7a80" stroke-width="0.7" stroke-opacity="0.26"/>
<line x1="344.6" y1="173.1" x2="350.4" y2="184.8" stroke="#5a7a80" stroke-width="0.9" stroke-opacity="0.32"/>
<line x1="320.9" y1="211.8" x2="323.5" y2="222.0" stroke="#5a7a80" stroke-width="0.7" stroke-opacity="0.43"/>
<line x1="353.7" y1="210.8" x2="357.5" y2="217.1" stroke="#5a7a80" stroke-width="0.9" stroke-opacity="0.32"/>
<line x1="328.0" y1="200.8" x2="328.7" y2="209.7" stroke="#5a7a80" stroke-width="0.5" stroke-opacity="0.25"/>
<line x1="298.8" y1="153.9" x2="297.3" y2="161.1" stroke="#5a7a80" stroke-width="0.5" stroke-opacity="0.30"/>
<line x1="317.0" y1="198.9" x2="318.1" y2="203.6" stroke="#5a7a80" stroke-width="0.5" stroke-opacity="0.36"/>
<line x1="314.5" y1="182.1" x2="316.5" y2="194.0" stroke="#5a7a80" stroke-width="0.9" stroke-opacity="0.21"/>
<line x1="312.2" y1="204.9" x2="312.6" y2="217.1" stroke="#5a7a80" stroke-width="0.7" stroke-opacity="0.21"/>
<line x1="278.2" y1="197.5" x2="277.0" y2="202.2" stroke="#5a7a80" stroke-width="0.7" stroke-opacity="0.41"/>
<line x1="299.7" y1="179.1" x2="299.2" y2="184.1" stroke="#5a7a80" stroke-width="0.5" stroke-opacity="0.21"/>
<line x1="284.8" y1="205.9" x2="283.3" y2="213.3" stroke="#5a7a80" stroke-width="0.5" stroke-opacity="0.26"/>
<line x1="292.3" y1="214.2" x2="290.9" y2="221.7" stroke="#5a7a80" stroke-width="0.5" stroke-opacity="0.34"/>
<line x1="293.9" y1="163.2" x2="291.3" y2="170.4" stroke="#5a7a80" stroke-width="0.9" stroke-opacity="0.23"/>
<line x1="329.3" y1="220.1" x2="330.3" y2="228.6" stroke="#5a7a80" stroke-width="0.5" stroke-opacity="0.27"/>
<line x1="338.9" y1="194.3" x2="341.2" y2="200.1" stroke="#5a7a80" stroke-width="0.9" stroke-opacity="0.32"/>
<line x1="346.5" y1="165.2" x2="351.3" y2="171.4" stroke="#5a7a80" stroke-width="0.5" stroke-opacity="0.28"/>
<line x1="345.1" y1="182.6" x2="352.8" y2="192.9" stroke="#5a7a80" stroke-width="0.7" stroke-opacity="0.21"/>
<line x1="271.7" y1="194.8" x2="269.9" y2="198.5" stroke="#5a7a80" stroke-width="0.9" stroke-opacity="0.44"/>
<line x1="282.5" y1="220.7" x2="280.6" y2="230.6" stroke="#5a7a80" stroke-width="0.5" stroke-opacity="0.31"/>
<line x1="337.2" y1="191.4" x2="339.2" y2="196.9" stroke="#5a7a80" stroke-width="0.7" stroke-opacity="0.28"/>
<line x1="347.1" y1="157.7" x2="355.1" y2="164.8" stroke="#5a7a80" stroke-width="0.7" stroke-opacity="0.36"/>
<line x1="306.6" y1="241.6" x2="306.4" y2="255.3" stroke="#5a7a80" stroke-width="0.5" stroke-opacity="0.38"/>
<line x1="300.2" y1="218.0" x2="300.3" y2="228.4" stroke="#5a7a80" stroke-width="0.9" stroke-opacity="0.27"/>
<line x1="283.7" y1="215.3" x2="282.5" y2="220.1" stroke="#5a7a80" stroke-width="0.9" stroke-opacity="0.40"/>
<line x1="271.0" y1="205.0" x2="269.4" y2="208.9" stroke="#5a7a80" stroke-width="0.9" stroke-opacity="0.40"/>
<line x1="302.7" y1="204.8" x2="300.9" y2="215.4" stroke="#5a7a80" stroke-width="0.7" stroke-opacity="0.42"/>
<line x1="339.0" y1="170.2" x2="341.4" y2="175.7" stroke="#5a7a80" stroke-width="0.9" stroke-opacity="0.21"/>
<line x1="338.2" y1="166.9" x2="344.7" y2="176.0" stroke="#5a7a80" stroke-width="0.5" stroke-opacity="0.28"/>
<line x1="356.6" y1="180.8" x2="361.8" y2="184.6" stroke="#5a7a80" stroke-width="0.7" stroke-opacity="0.31"/>
<line x1="303.4" y1="158.5" x2="302.8" y2="166.5" stroke="#5a7a80" stroke-width="0.5" stroke-opacity="0.29"/>
<line x1="312.7" y1="221.8" x2="314.5" y2="234.8" stroke="#5a7a80" stroke-width="0.9" stroke-opacity="0.31"/>
<line x1="310.2" y1="158.2" x2="311.1" y2="167.5" stroke="#5a7a80" stroke-width="0.7" stroke-opacity="0.26"/>
<line x1="343.1" y1="232.7" x2="346.9" y2="242.5" stroke="#5a7a80" stroke-width="0.5" stroke-opacity="0.37"/>
<line x1="308.9" y1="214.3" x2="309.6" y2="219.0" stroke="#5a7a80" stroke-width="0.5" stroke-opacity="0.44"/>
<line x1="351.0" y1="189.6" x2="354.1" y2="194.1" stroke="#5a7a80" stroke-width="0.5" stroke-opacity="0.31"/>
<line x1="304.2" y1="231.3" x2="303.2" y2="239.2" stroke="#5a7a80" stroke-width="0.9" stroke-opacity="0.36"/>
<line x1="338.7" y1="210.2" x2="342.3" y2="217.5" stroke="#5a7a80" stroke-width="0.7" stroke-opacity="0.35"/>
<line x1="285.7" y1="217.3" x2="282.7" y2="227.7" stroke="#5a7a80" stroke-width="0.5" stroke-opacity="0.43"/>
<line x1="283.2" y1="220.1" x2="282.1" y2="228.1" stroke="#5a7a80" stroke-width="0.5" stroke-opacity="0.36"/>
<line x1="350.5" y1="198.0" x2="352.9" y2="203.6" stroke="#5a7a80" stroke-width="0.5" stroke-opacity="0.32"/>
<line x1="292.3" y1="235.2" x2="292.3" y2="244.4" stroke="#5a7a80" stroke-width="0.7" stroke-opacity="0.25"/>
<line x1="334.0" y1="230.1" x2="335.4" y2="239.8" stroke="#5a7a80" stroke-width="0.5" stroke-opacity="0.26"/>
<line x1="340.0" y1="219.0" x2="343.6" y2="228.5" stroke="#5a7a80" stroke-width="0.7" stroke-opacity="0.44"/>
<line x1="344.7" y1="191.9" x2="346.8" y2="196.0" stroke="#5a7a80" stroke-width="0.9" stroke-opacity="0.40"/>
<line x1="354.8" y1="221.6" x2="358.2" y2="229.5" stroke="#5a7a80" stroke-width="0.9" stroke-opacity="0.34"/>
<line x1="308.6" y1="179.1" x2="309.2" y2="185.7" stroke="#5a7a80" stroke-width="0.9" stroke-opacity="0.24"/>
<line x1="310.8" y1="227.5" x2="312.3" y2="235.9" stroke="#5a7a80" stroke-width="0.9" stroke-opacity="0.40"/>
<line x1="353.9" y1="184.6" x2="359.7" y2="192.5" stroke="#5a7a80" stroke-width="0.5" stroke-opacity="0.27"/>
<line x1="299.0" y1="204.2" x2="298.1" y2="213.1" stroke="#5a7a80" stroke-width="0.7" stroke-opacity="0.28"/>
<line x1="343.4" y1="182.4" x2="350.3" y2="190.8" stroke="#5a7a80" stroke-width="0.7" stroke-opacity="0.40"/>
<line x1="318.7" y1="207.6" x2="321.9" y2="219.8" stroke="#5a7a80" stroke-width="0.7" stroke-opacity="0.33"/>
<line x1="297.1" y1="225.7" x2="295.0" y2="232.5" stroke="#5a7a80" stroke-width="0.7" stroke-opacity="0.28"/>
<line x1="360.2" y1="175.9" x2="365.0" y2="183.3" stroke="#5a7a80" stroke-width="0.7" stroke-opacity="0.27"/>
<line x1="292.7" y1="215.7" x2="290.8" y2="227.2" stroke="#5a7a80" stroke-width="0.9" stroke-opacity="0.45"/>
<line x1="285.9" y1="163.6" x2="284.0" y2="167.9" stroke="#5a7a80" stroke-width="0.9" stroke-opacity="0.40"/>
<line x1="326.7" y1="231.4" x2="327.5" y2="236.0" stroke="#5a7a80" stroke-width="0.9" stroke-opacity="0.43"/>
<line x1="317.7" y1="167.0" x2="321.5" y2="178.0" stroke="#5a7a80" stroke-width="0.5" stroke-opacity="0.22"/>
<line x1="315.7" y1="163.2" x2="318.2" y2="169.8" stroke="#5a7a80" stroke-width="0.5" stroke-opacity="0.24"/>
<line x1="324.9" y1="193.9" x2="326.2" y2="203.3" stroke="#5a7a80" stroke-width="0.9" stroke-opacity="0.31"/>
<line x1="307.6" y1="163.2" x2="307.8" y2="170.8" stroke="#5a7a80" stroke-width="0.9" stroke-opacity="0.26"/>
<line x1="283.2" y1="216.1" x2="281.2" y2="224.3" stroke="#5a7a80" stroke-width="0.5" stroke-opacity="0.27"/>
<line x1="334.2" y1="177.0" x2="336.1" y2="182.1" stroke="#5a7a80" stroke-width="0.7" stroke-opacity="0.26"/>
<line x1="328.5" y1="171.9" x2="331.3" y2="177.6" stroke="#5a7a80" stroke-width="0.7" stroke-opacity="0.24"/>
<line x1="312.2" y1="183.7" x2="314.7" y2="195.8" stroke="#5a7a80" stroke-width="0.9" stroke-opacity="0.39"/>
<line x1="276.9" y1="212.2" x2="274.8" y2="217.8" stroke="#5a7a80" stroke-width="0.9" stroke-opacity="0.41"/>
<line x1="339.0" y1="172.5" x2="343.5" y2="181.3" stroke="#5a7a80" stroke-width="0.7" stroke-opacity="0.29"/>
<line x1="340.8" y1="177.6" x2="345.9" y2="187.4" stroke="#5a7a80" stroke-width="0.5" stroke-opacity="0.23"/>
<line x1="292.7" y1="152.7" x2="289.8" y2="161.0" stroke="#5a7a80" stroke-width="0.5" stroke-opacity="0.42"/>
<line x1="347.2" y1="203.7" x2="349.3" y2="209.7" stroke="#5a7a80" stroke-width="0.9" stroke-opacity="0.40"/>
<line x1="360.0" y1="176.6" x2="363.5" y2="181.8" stroke="#5a7a80" stroke-width="0.7" stroke-opacity="0.23"/>
<line x1="317.8" y1="181.0" x2="318.1" y2="187.8" stroke="#5a7a80" stroke-width="0.9" stroke-opacity="0.41"/>
<line x1="318.0" y1="173.1" x2="320.6" y2="183.7" stroke="#5a7a80" stroke-width="0.7" stroke-opacity="0.38"/>
<line x1="353.9" y1="178.7" x2="361.0" y2="188.2" stroke="#5a7a80" stroke-width="0.7" stroke-opacity="0.37"/>
<line x1="308.5" y1="202.6" x2="309.3" y2="210.4" stroke="#5a7a80" stroke-width="0.7" stroke-opacity="0.40"/>
<line x1="308.1" y1="159.1" x2="309.4" y2="172.7" stroke="#5a7a80" stroke-width="0.5" stroke-opacity="0.43"/>
<line x1="287.4" y1="161.7" x2="285.5" y2="164.5" stroke="#4a5e66" stroke-width="0.8" stroke-opacity="0.72"/>
<line x1="274.4" y1="186.7" x2="271.3" y2="191.3" stroke="#364a50" stroke-width="0.6" stroke-opacity="0.47"/>
<line x1="325.6" y1="240.9" x2="325.8" y2="244.4" stroke="#3e5258" stroke-width="1.2" stroke-opacity="0.74"/>
<line x1="333.9" y1="169.3" x2="335.6" y2="169.3" stroke="#4a5e66" stroke-width="1.2" stroke-opacity="0.78"/>
<line x1="332.6" y1="175.6" x2="333.2" y2="177.3" stroke="#364a50" stroke-width="0.6" stroke-opacity="0.68"/>
<line x1="284.1" y1="194.4" x2="283.4" y2="196.3" stroke="#4a5e66" stroke-width="0.8" stroke-opacity="0.46"/>
<line x1="270.5" y1="204.8" x2="270.2" y2="206.4" stroke="#364a50" stroke-width="1.2" stroke-opacity="0.48"/>
<line x1="289.2" y1="185.4" x2="287.7" y2="190.6" stroke="#4a5e66" stroke-width="1.0" stroke-opacity="0.54"/>
<line x1="347.6" y1="187.7" x2="351.2" y2="186.5" stroke="#2f4248" stroke-width="0.8" stroke-opacity="0.39"/>
<line x1="284.4" y1="197.1" x2="287.9" y2="198.1" stroke="#4a5e66" stroke-width="0.6" stroke-opacity="0.60"/>
<line x1="311.5" y1="154.4" x2="312.3" y2="156.3" stroke="#4a5e66" stroke-width="0.8" stroke-opacity="0.48"/>
<line x1="354.7" y1="203.7" x2="358.3" y2="203.1" stroke="#2f4248" stroke-width="0.6" stroke-opacity="0.77"/>
<line x1="337.5" y1="198.6" x2="339.5" y2="202.0" stroke="#2f4248" stroke-width="1.0" stroke-opacity="0.40"/>
<line x1="314.6" y1="187.4" x2="314.5" y2="189.6" stroke="#364a50" stroke-width="0.8" stroke-opacity="0.64"/>
<line x1="279.4" y1="221.1" x2="281.4" y2="221.5" stroke="#364a50" stroke-width="1.0" stroke-opacity="0.53"/>
<line x1="306.6" y1="209.5" x2="305.1" y2="214.5" stroke="#364a50" stroke-width="0.8" stroke-opacity="0.49"/>
<line x1="283.2" y1="187.4" x2="281.6" y2="191.4" stroke="#364a50" stroke-width="0.8" stroke-opacity="0.72"/>
<line x1="337.7" y1="191.9" x2="340.2" y2="197.0" stroke="#4a5e66" stroke-width="1.0" stroke-opacity="0.36"/>
<line x1="330.5" y1="240.1" x2="331.4" y2="244.3" stroke="#3e5258" stroke-width="0.6" stroke-opacity="0.65"/>
<line x1="311.3" y1="239.0" x2="311.8" y2="242.9" stroke="#3e5258" stroke-width="1.2" stroke-opacity="0.36"/>
<line x1="358.1" y1="177.1" x2="360.8" y2="176.8" stroke="#2f4248" stroke-width="1.0" stroke-opacity="0.53"/>
<line x1="352.9" y1="184.4" x2="355.2" y2="185.2" stroke="#364a50" stroke-width="0.6" stroke-opacity="0.47"/>
<line x1="327.3" y1="196.4" x2="328.3" y2="201.9" stroke="#2f4248" stroke-width="1.0" stroke-opacity="0.40"/>
<line x1="276.4" y1="164.6" x2="281.4" y2="164.7" stroke="#364a50" stroke-width="1.2" stroke-opacity="0.76"/>
<line x1="279.8" y1="194.9" x2="279.8" y2="197.1" stroke="#364a50" stroke-width="0.8" stroke-opacity="0.68"/>
<line x1="298.2" y1="205.7" x2="298.9" y2="211.5" stroke="#364a50" stroke-width="1.0" stroke-opacity="0.69"/>
<line x1="330.0" y1="205.7" x2="331.9" y2="205.3" stroke="#3e5258" stroke-width="1.0" stroke-opacity="0.72"/>
<line x1="361.5" y1="179.3" x2="365.6" y2="179.8" stroke="#3e5258" stroke-width="1.0" stroke-opacity="0.37"/>
<line x1="272.5" y1="200.4" x2="271.5" y2="202.6" stroke="#3e5258" stroke-width="0.8" stroke-opacity="0.65"/>
<line x1="317.6" y1="212.3" x2="322.2" y2="213.0" stroke="#4a5e66" stroke-width="0.8" stroke-opacity="0.41"/>
<line x1="319.7" y1="161.9" x2="323.8" y2="166.0" stroke="#4a5e66" stroke-width="1.0" stroke-opacity="0.40"/>
<line x1="286.7" y1="174.3" x2="285.8" y2="176.6" stroke="#364a50" stroke-width="0.6" stroke-opacity="0.75"/>
<line x1="274.1" y1="194.4" x2="272.4" y2="200.0" stroke="#2f4248" stroke-width="1.0" stroke-opacity="0.39"/>
<line x1="345.6" y1="215.4" x2="348.4" y2="215.6" stroke="#4a5e66" stroke-width="0.6" stroke-opacity="0.51"/>
<line x1="303.6" y1="156.9" x2="303.1" y2="160.6" stroke="#3e5258" stroke-width="0.6" stroke-opacity="0.56"/>
<line x1="304.1" y1="234.7" x2="303.7" y2="239.8" stroke="#4a5e66" stroke-width="1.2" stroke-opacity="0.54"/>
<line x1="344.3" y1="164.8" x2="346.1" y2="165.7" stroke="#364a50" stroke-width="0.6" stroke-opacity="0.52"/>
<line x1="341.4" y1="171.5" x2="343.5" y2="174.9" stroke="#364a50" stroke-width="0.6" stroke-opacity="0.64"/>
<line x1="281.8" y1="229.3" x2="281.4" y2="233.7" stroke="#2f4248" stroke-width="1.0" stroke-opacity="0.61"/>
<line x1="355.4" y1="201.3" x2="356.7" y2="204.9" stroke="#2f4248" stroke-width="0.8" stroke-opacity="0.52"/>
<line x1="348.0" y1="159.3" x2="350.1" y2="162.4" stroke="#364a50" stroke-width="0.8" stroke-opacity="0.66"/>
<line x1="312.5" y1="227.6" x2="315.8" y2="227.6" stroke="#2f4248" stroke-width="1.0" stroke-opacity="0.52"/>
<line x1="315.8" y1="182.8" x2="317.2" y2="188.2" stroke="#364a50" stroke-width="0.6" stroke-opacity="0.70"/>
<line x1="335.8" y1="231.0" x2="339.7" y2="231.3" stroke="#2f4248" stroke-width="0.6" stroke-opacity="0.53"/>
<line x1="334.8" y1="221.7" x2="337.3" y2="226.9" stroke="#3e5258" stroke-width="0.6" stroke-opacity="0.67"/>
<line x1="314.2" y1="156.1" x2="319.0" y2="155.6" stroke="#364a50" stroke-width="0.6" stroke-opacity="0.37"/>
<line x1="312.4" y1="236.1" x2="313.4" y2="239.4" stroke="#2f4248" stroke-width="0.6" stroke-opacity="0.60"/>
<line x1="288.0" y1="172.7" x2="286.8" y2="174.2" stroke="#2f4248" stroke-width="1.0" stroke-opacity="0.42"/>
<line x1="337.4" y1="191.2" x2="338.4" y2="192.4" stroke="#364a50" stroke-width="0.6" stroke-opacity="0.51"/>
<line x1="322.1" y1="215.1" x2="326.1" y2="214.2" stroke="#4a5e66" stroke-width="1.0" stroke-opacity="0.66"/>
<line x1="293.2" y1="169.9" x2="292.1" y2="173.4" stroke="#4a5e66" stroke-width="0.6" stroke-opacity="0.65"/>
<line x1="313.4" y1="189.0" x2="313.4" y2="191.5" stroke="#3e5258" stroke-width="1.2" stroke-opacity="0.77"/>
<line x1="308.9" y1="200.4" x2="309.4" y2="201.9" stroke="#364a50" stroke-width="1.0" stroke-opacity="0.80"/>
<line x1="347.2" y1="208.1" x2="348.7" y2="211.2" stroke="#364a50" stroke-width="1.2" stroke-opacity="0.69"/>
<line x1="344.7" y1="187.4" x2="348.4" y2="188.3" stroke="#4a5e66" stroke-width="1.2" stroke-opacity="0.72"/>
<line x1="349.4" y1="199.1" x2="353.9" y2="198.4" stroke="#364a50" stroke-width="1.0" stroke-opacity="0.47"/>
<line x1="333.9" y1="200.1" x2="335.2" y2="203.9" stroke="#364a50" stroke-width="1.2" stroke-opacity="0.59"/>
<line x1="297.8" y1="156.8" x2="296.8" y2="161.7" stroke="#4a5e66" stroke-width="0.8" stroke-opacity="0.69"/>
<line x1="331.6" y1="166.9" x2="334.8" y2="171.9" stroke="#4a5e66" stroke-width="0.8" stroke-opacity="0.65"/>
<line x1="335.0" y1="227.7" x2="335.7" y2="229.4" stroke="#2f4248" stroke-width="1.2" stroke-opacity="0.43"/>
<line x1="343.4" y1="216.9" x2="348.6" y2="216.0" stroke="#3e5258" stroke-width="0.8" stroke-opacity="0.65"/>
<line x1="314.7" y1="170.9" x2="315.4" y2="175.2" stroke="#364a50" stroke-width="0.6" stroke-opacity="0.36"/>
<line x1="352.7" y1="201.3" x2="353.2" y2="205.4" stroke="#364a50" stroke-width="1.0" stroke-opacity="0.67"/>
<line x1="325.8" y1="182.2" x2="327.4" y2="185.3" stroke="#3e5258" stroke-width="1.0" stroke-opacity="0.46"/>
<line x1="280.0" y1="172.9" x2="278.4" y2="176.6" stroke="#4a5e66" stroke-width="1.0" stroke-opacity="0.43"/>
<line x1="309.6" y1="213.8" x2="309.8" y2="218.8" stroke="#364a50" stroke-width="1.2" stroke-opacity="0.61"/>
<line x1="351.4" y1="206.0" x2="352.3" y2="207.8" stroke="#2f4248" stroke-width="1.2" stroke-opacity="0.44"/>
<line x1="267.8" y1="183.3" x2="270.8" y2="184.4" stroke="#364a50" stroke-width="1.0" stroke-opacity="0.53"/>
<line x1="301.0" y1="222.6" x2="300.4" y2="224.4" stroke="#2f4248" stroke-width="0.8" stroke-opacity="0.38"/>
<line x1="315.9" y1="183.6" x2="316.4" y2="188.6" stroke="#2f4248" stroke-width="0.8" stroke-opacity="0.46"/>
<line x1="290.5" y1="153.5" x2="290.0" y2="155.2" stroke="#2f4248" stroke-width="0.6" stroke-opacity="0.42"/>
<line x1="313.7" y1="197.2" x2="316.1" y2="200.6" stroke="#4a5e66" stroke-width="0.6" stroke-opacity="0.57"/>
<line x1="311.6" y1="174.9" x2="316.2" y2="174.0" stroke="#4a5e66" stroke-width="0.8" stroke-opacity="0.38"/>
<line x1="284.7" y1="168.8" x2="286.2" y2="169.0" stroke="#3e5258" stroke-width="0.8" stroke-opacity="0.62"/>
<line x1="309.3" y1="152.3" x2="310.9" y2="152.3" stroke="#2f4248" stroke-width="1.2" stroke-opacity="0.75"/>
<line x1="328.6" y1="177.0" x2="329.7" y2="178.9" stroke="#2f4248" stroke-width="1.2" stroke-opacity="0.54"/>
<line x1="313.1" y1="222.2" x2="312.7" y2="224.2" stroke="#2f4248" stroke-width="1.2" stroke-opacity="0.73"/>
<line x1="299.9" y1="167.8" x2="303.6" y2="168.8" stroke="#2f4248" stroke-width="1.2" stroke-opacity="0.73"/>
<line x1="286.0" y1="215.1" x2="289.5" y2="216.1" stroke="#3e5258" stroke-width="1.0" stroke-opacity="0.50"/>
<line x1="324.0" y1="231.0" x2="326.0" y2="231.2" stroke="#3e5258" stroke-width="1.0" stroke-opacity="0.77"/>
<line x1="360.3" y1="190.8" x2="361.6" y2="192.7" stroke="#364a50" stroke-width="1.2" stroke-opacity="0.36"/>
<line x1="339.9" y1="183.7" x2="340.5" y2="185.5" stroke="#3e5258" stroke-width="1.2" stroke-opacity="0.41"/>
<line x1="294.4" y1="189.8" x2="294.1" y2="193.6" stroke="#4a5e66" stroke-width="0.6" stroke-opacity="0.58"/>
<line x1="308.1" y1="192.3" x2="307.9" y2="194.8" stroke="#2f4248" stroke-width="1.2" stroke-opacity="0.36"/>
<line x1="289.9" y1="178.1" x2="287.5" y2="183.5" stroke="#2f4248" stroke-width="1.0" stroke-opacity="0.51"/>
<line x1="325.4" y1="154.6" x2="326.2" y2="158.2" stroke="#4a5e66" stroke-width="0.8" stroke-opacity="0.60"/>
<line x1="319.9" y1="159.7" x2="322.2" y2="162.7" stroke="#4a5e66" stroke-width="1.2" stroke-opacity="0.36"/>
<line x1="327.4" y1="171.1" x2="332.2" y2="169.6" stroke="#2f4248" stroke-width="0.8" stroke-opacity="0.36"/>
<line x1="287.6" y1="193.7" x2="293.6" y2="193.7" stroke="#3e5258" stroke-width="1.0" stroke-opacity="0.63"/>
<line x1="331.7" y1="154.7" x2="334.8" y2="154.6" stroke="#3e5258" stroke-width="0.6" stroke-opacity="0.66"/>
<line x1="320.5" y1="177.5" x2="321.0" y2="180.6" stroke="#3e5258" stroke-width="1.2" stroke-opacity="0.35"/>
<line x1="328.0" y1="210.2" x2="328.1" y2="215.1" stroke="#4a5e66" stroke-width="1.0" stroke-opacity="0.73"/>
<line x1="323.8" y1="198.4" x2="324.3" y2="203.6" stroke="#2f4248" stroke-width="0.8" stroke-opacity="0.38"/>
<line x1="281.6" y1="205.0" x2="283.1" y2="204.6" stroke="#4a5e66" stroke-width="1.0" stroke-opacity="0.48"/>
<line x1="291.6" y1="157.4" x2="290.9" y2="159.2" stroke="#2f4248" stroke-width="1.2" stroke-opacity="0.62"/>
<line x1="325.8" y1="193.3" x2="326.0" y2="196.4" stroke="#2f4248" stroke-width="0.8" stroke-opacity="0.75"/>
<line x1="337.3" y1="192.0" x2="339.2" y2="195.2" stroke="#2f4248" stroke-width="0.8" stroke-opacity="0.44"/>
<line x1="311.6" y1="241.7" x2="315.2" y2="240.8" stroke="#364a50" stroke-width="1.2" stroke-opacity="0.37"/>
<line x1="338.3" y1="176.4" x2="341.0" y2="179.6" stroke="#364a50" stroke-width="1.0" stroke-opacity="0.51"/>
<line x1="362.1" y1="186.5" x2="366.0" y2="189.5" stroke="#4a5e66" stroke-width="0.6" stroke-opacity="0.61"/>
<line x1="344.2" y1="171.3" x2="345.2" y2="172.5" stroke="#2f4248" stroke-width="1.2" stroke-opacity="0.37"/>
<line x1="292.5" y1="191.3" x2="298.0" y2="192.3" stroke="#3e5258" stroke-width="1.2" stroke-opacity="0.67"/>
<line x1="344.4" y1="170.5" x2="346.7" y2="172.7" stroke="#364a50" stroke-width="0.8" stroke-opacity="0.51"/>
<line x1="308.1" y1="190.0" x2="308.1" y2="192.1" stroke="#364a50" stroke-width="1.0" stroke-opacity="0.36"/>
<line x1="353.9" y1="189.9" x2="355.3" y2="191.4" stroke="#364a50" stroke-width="1.0" stroke-opacity="0.44"/>
<line x1="291.2" y1="152.9" x2="290.2" y2="154.9" stroke="#4a5e66" stroke-width="0.6" stroke-opacity="0.56"/>
<line x1="290.6" y1="179.5" x2="290.6" y2="181.1" stroke="#4a5e66" stroke-width="0.6" stroke-opacity="0.58"/>
<line x1="344.9" y1="224.4" x2="349.8" y2="225.5" stroke="#4a5e66" stroke-width="0.6" stroke-opacity="0.67"/>
<line x1="283.9" y1="215.3" x2="285.5" y2="214.8" stroke="#4a5e66" stroke-width="1.2" stroke-opacity="0.61"/>
<line x1="349.0" y1="202.6" x2="352.7" y2="206.6" stroke="#2f4248" stroke-width="0.8" stroke-opacity="0.44"/>
<line x1="303.6" y1="162.8" x2="306.4" y2="163.2" stroke="#364a50" stroke-width="1.0" stroke-opacity="0.37"/>
<line x1="274.9" y1="180.1" x2="273.9" y2="181.6" stroke="#4a5e66" stroke-width="1.0" stroke-opacity="0.38"/>
<line x1="302.2" y1="233.9" x2="302.1" y2="239.3" stroke="#364a50" stroke-width="1.0" stroke-opacity="0.48"/>
<line x1="304.3" y1="199.5" x2="304.6" y2="202.3" stroke="#3e5258" stroke-width="0.8" stroke-opacity="0.63"/>
<line x1="360.4" y1="196.3" x2="362.2" y2="198.2" stroke="#364a50" stroke-width="1.2" stroke-opacity="0.77"/>
<line x1="280.2" y1="201.5" x2="279.4" y2="204.1" stroke="#364a50" stroke-width="1.2" stroke-opacity="0.37"/>
<line x1="322.6" y1="159.5" x2="323.1" y2="162.0" stroke="#2f4248" stroke-width="1.0" stroke-opacity="0.67"/>
<line x1="320.7" y1="207.1" x2="322.2" y2="206.6" stroke="#4a5e66" stroke-width="1.0" stroke-opacity="0.45"/>
<line x1="355.5" y1="207.1" x2="358.4" y2="211.7" stroke="#3e5258" stroke-width="1.0" stroke-opacity="0.43"/>
<line x1="279.5" y1="184.3" x2="278.9" y2="187.7" stroke="#4a5e66" stroke-width="0.6" stroke-opacity="0.35"/>
<line x1="338.8" y1="229.8" x2="339.9" y2="232.2" stroke="#2f4248" stroke-width="1.2" stroke-opacity="0.75"/>
<line x1="357.9" y1="174.0" x2="363.5" y2="173.6" stroke="#3e5258" stroke-width="0.8" stroke-opacity="0.60"/>
<line x1="336.3" y1="232.3" x2="338.1" y2="237.7" stroke="#364a50" stroke-width="1.2" stroke-opacity="0.55"/>
<line x1="329.9" y1="152.2" x2="331.5" y2="154.8" stroke="#2f4248" stroke-width="0.8" stroke-opacity="0.55"/>
<line x1="309.7" y1="178.6" x2="309.4" y2="182.9" stroke="#3e5258" stroke-width="0.6" stroke-opacity="0.55"/>
<line x1="308.3" y1="208.4" x2="308.2" y2="210.0" stroke="#3e5258" stroke-width="1.2" stroke-opacity="0.66"/>
<line x1="306.3" y1="161.8" x2="307.5" y2="166.0" stroke="#3e5258" stroke-width="0.6" stroke-opacity="0.36"/>
<line x1="270.3" y1="214.0" x2="274.7" y2="214.1" stroke="#4a5e66" stroke-width="0.6" stroke-opacity="0.70"/>
<line x1="286.7" y1="222.2" x2="290.4" y2="223.0" stroke="#2f4248" stroke-width="1.0" stroke-opacity="0.56"/>
<line x1="316.5" y1="237.8" x2="316.5" y2="239.5" stroke="#364a50" stroke-width="0.6" stroke-opacity="0.37"/>
<line x1="319.0" y1="239.7" x2="322.4" y2="240.4" stroke="#4a5e66" stroke-width="0.8" stroke-opacity="0.55"/>
<line x1="343.6" y1="172.0" x2="345.1" y2="175.4" stroke="#4a5e66" stroke-width="0.8" stroke-opacity="0.61"/>
<line x1="360.5" y1="210.8" x2="361.3" y2="213.5" stroke="#3e5258" stroke-width="1.0" stroke-opacity="0.73"/>
<line x1="315.2" y1="153.3" x2="314.9" y2="157.8" stroke="#364a50" stroke-width="0.6" stroke-opacity="0.71"/>
<line x1="354.5" y1="187.6" x2="355.6" y2="188.9" stroke="#2f4248" stroke-width="0.8" stroke-opacity="0.37"/>
<line x1="286.1" y1="209.9" x2="288.1" y2="210.0" stroke="#3e5258" stroke-width="0.8" stroke-opacity="0.73"/>
<line x1="343.3" y1="208.5" x2="348.3" y2="209.2" stroke="#2f4248" stroke-width="1.2" stroke-opacity="0.54"/>
<line x1="329.2" y1="218.0" x2="329.9" y2="221.4" stroke="#2f4248" stroke-width="1.0" stroke-opacity="0.71"/>
<line x1="350.0" y1="215.8" x2="353.2" y2="214.8" stroke="#2f4248" stroke-width="1.0" stroke-opacity="0.44"/>
<line x1="321.8" y1="182.8" x2="321.9" y2="184.6" stroke="#4a5e66" stroke-width="0.6" stroke-opacity="0.53"/>
<line x1="307.7" y1="221.6" x2="308.3" y2="224.5" stroke="#2f4248" stroke-width="1.0" stroke-opacity="0.39"/>
<line x1="285.1" y1="178.0" x2="288.1" y2="177.1" stroke="#4a5e66" stroke-width="1.0" stroke-opacity="0.72"/>
<line x1="286.6" y1="223.3" x2="285.8" y2="226.8" stroke="#4a5e66" stroke-width="0.6" stroke-opacity="0.49"/>
<line x1="350.2" y1="209.3" x2="352.0" y2="208.8" stroke="#3e5258" stroke-width="0.8" stroke-opacity="0.70"/>
<line x1="329.4" y1="186.4" x2="331.3" y2="189.3" stroke="#364a50" stroke-width="0.8" stroke-opacity="0.64"/>
<line x1="328.9" y1="220.6" x2="331.6" y2="220.9" stroke="#2f4248" stroke-width="1.0" stroke-opacity="0.57"/>
<line x1="300.4" y1="180.5" x2="302.9" y2="181.2" stroke="#2f4248" stroke-width="1.0" stroke-opacity="0.63"/>
<line x1="360.8" y1="203.6" x2="361.9" y2="205.8" stroke="#364a50" stroke-width="1.0" stroke-opacity="0.79"/>
<line x1="338.0" y1="233.9" x2="338.2" y2="238.5" stroke="#2f4248" stroke-width="1.2" stroke-opacity="0.52"/>
<line x1="303.8" y1="176.4" x2="308.5" y2="175.8" stroke="#364a50" stroke-width="0.6" stroke-opacity="0.70"/>
<line x1="295.9" y1="229.0" x2="298.0" y2="228.5" stroke="#4a5e66" stroke-width="0.8" stroke-opacity="0.56"/>
<line x1="310.2" y1="229.4" x2="313.6" y2="228.5" stroke="#3e5258" stroke-width="0.6" stroke-opacity="0.49"/>
<line x1="337.3" y1="187.5" x2="341.7" y2="187.7" stroke="#2f4248" stroke-width="0.6" stroke-opacity="0.68"/>
<line x1="304.9" y1="204.0" x2="304.9" y2="207.9" stroke="#3e5258" stroke-width="0.8" stroke-opacity="0.75"/>
<line x1="270.6" y1="181.6" x2="273.6" y2="182.6" stroke="#364a50" stroke-width="0.8" stroke-opacity="0.45"/>
<line x1="350.7" y1="196.0" x2="353.0" y2="199.2" stroke="#364a50" stroke-width="1.2" stroke-opacity="0.66"/>
<line x1="283.4" y1="227.0" x2="285.6" y2="227.3" stroke="#4a5e66" stroke-width="1.2" stroke-opacity="0.75"/>
<line x1="297.9" y1="216.6" x2="297.2" y2="219.3" stroke="#4a5e66" stroke-width="0.6" stroke-opacity="0.74"/>
<line x1="355.8" y1="189.8" x2="358.2" y2="192.7" stroke="#4a5e66" stroke-width="0.6" stroke-opacity="0.56"/>
<line x1="328.7" y1="176.3" x2="329.4" y2="180.7" stroke="#3e5258" stroke-width="0.8" stroke-opacity="0.55"/>
<line x1="319.4" y1="223.8" x2="321.7" y2="229.1" stroke="#3e5258" stroke-width="1.2" stroke-opacity="0.68"/>
<line x1="313.5" y1="186.4" x2="314.1" y2="188.2" stroke="#364a50" stroke-width="1.2" stroke-opacity="0.40"/>
<line x1="307.9" y1="188.5" x2="313.2" y2="187.9" stroke="#2f4248" stroke-width="0.6" stroke-opacity="0.75"/>
<line x1="281.0" y1="197.9" x2="285.2" y2="197.5" stroke="#364a50" stroke-width="1.0" stroke-opacity="0.55"/>
<line x1="275.9" y1="216.4" x2="273.4" y2="220.5" stroke="#3e5258" stroke-width="1.0" stroke-opacity="0.60"/>
<line x1="284.8" y1="164.3" x2="284.4" y2="168.3" stroke="#3e5258" stroke-width="0.8" stroke-opacity="0.46"/>
<line x1="273.9" y1="220.6" x2="272.6" y2="224.3" stroke="#364a50" stroke-width="0.6" stroke-opacity="0.37"/>
<line x1="315.0" y1="162.8" x2="316.0" y2="165.2" stroke="#4a5e66" stroke-width="1.2" stroke-opacity="0.77"/>
<line x1="301.9" y1="212.4" x2="307.4" y2="212.6" stroke="#2f4248" stroke-width="0.8" stroke-opacity="0.47"/>
<line x1="279.6" y1="198.1" x2="281.1" y2="198.5" stroke="#4a5e66" stroke-width="1.0" stroke-opacity="0.47"/>
<line x1="312.0" y1="235.9" x2="311.7" y2="239.1" stroke="#2c4146" stroke-width="0.7" stroke-opacity="0.58"/>
<line x1="304.1" y1="223.1" x2="304.5" y2="229.4" stroke="#2c4146" stroke-width="0.7" stroke-opacity="0.45"/>
<line x1="304.1" y1="221.0" x2="303.7" y2="225.8" stroke="#2c4146" stroke-width="0.9" stroke-opacity="0.69"/>
<line x1="316.7" y1="234.1" x2="318.5" y2="241.8" stroke="#2c4146" stroke-width="0.7" stroke-opacity="0.83"/>
<line x1="302.2" y1="213.8" x2="303.3" y2="221.4" stroke="#2c4146" stroke-width="0.7" stroke-opacity="0.80"/>
<line x1="295.9" y1="215.6" x2="296.5" y2="218.4" stroke="#2c4146" stroke-width="1.2" stroke-opacity="0.43"/>
<line x1="305.3" y1="224.6" x2="304.8" y2="228.1" stroke="#2c4146" stroke-width="1.4" stroke-opacity="0.70"/>
<line x1="296.3" y1="214.4" x2="294.9" y2="219.9" stroke="#2c4146" stroke-width="1.2" stroke-opacity="0.56"/>
<line x1="296.5" y1="211.3" x2="296.2" y2="215.2" stroke="#2c4146" stroke-width="1.4" stroke-opacity="0.76"/>
<line x1="316.6" y1="231.4" x2="317.0" y2="234.1" stroke="#2c4146" stroke-width="1.2" stroke-opacity="0.62"/>
<line x1="293.2" y1="191.7" x2="292.7" y2="195.4" stroke="#2c4146" stroke-width="1.2" stroke-opacity="0.44"/>
<line x1="323.2" y1="223.4" x2="324.8" y2="229.5" stroke="#2c4146" stroke-width="1.4" stroke-opacity="0.78"/>
<line x1="304.9" y1="194.0" x2="303.7" y2="200.8" stroke="#2c4146" stroke-width="1.2" stroke-opacity="0.85"/>
<line x1="276.8" y1="186.0" x2="275.8" y2="189.4" stroke="#2c4146" stroke-width="1.4" stroke-opacity="0.56"/>
<line x1="324.8" y1="224.8" x2="325.5" y2="229.6" stroke="#2c4146" stroke-width="0.9" stroke-opacity="0.84"/>
<line x1="316.1" y1="225.0" x2="317.7" y2="229.3" stroke="#2c4146" stroke-width="1.2" stroke-opacity="0.58"/>
<line x1="289.5" y1="210.2" x2="289.1" y2="213.8" stroke="#2c4146" stroke-width="1.4" stroke-opacity="0.70"/>
<line x1="312.1" y1="223.4" x2="311.6" y2="227.8" stroke="#2c4146" stroke-width="0.7" stroke-opacity="0.71"/>
<line x1="303.2" y1="214.4" x2="303.2" y2="220.5" stroke="#2c4146" stroke-width="0.7" stroke-opacity="0.52"/>
<line x1="309.3" y1="223.2" x2="309.2" y2="228.7" stroke="#2c4146" stroke-width="0.7" stroke-opacity="0.57"/>
<line x1="284.2" y1="201.3" x2="283.7" y2="208.6" stroke="#2c4146" stroke-width="0.9" stroke-opacity="0.41"/>
<line x1="307.0" y1="227.2" x2="308.0" y2="234.8" stroke="#2c4146" stroke-width="0.7" stroke-opacity="0.65"/>
<line x1="280.8" y1="187.6" x2="280.7" y2="189.7" stroke="#2c4146" stroke-width="1.2" stroke-opacity="0.71"/>
<line x1="283.7" y1="193.0" x2="283.8" y2="196.9" stroke="#2c4146" stroke-width="0.9" stroke-opacity="0.46"/>
<line x1="321.1" y1="223.1" x2="321.9" y2="230.1" stroke="#2c4146" stroke-width="0.9" stroke-opacity="0.66"/>
<line x1="307.5" y1="228.5" x2="308.0" y2="234.3" stroke="#2c4146" stroke-width="1.2" stroke-opacity="0.62"/>
<line x1="306.0" y1="215.7" x2="306.1" y2="217.9" stroke="#2c4146" stroke-width="0.9" stroke-opacity="0.71"/>
<line x1="315.7" y1="235.8" x2="316.4" y2="238.7" stroke="#2c4146" stroke-width="0.7" stroke-opacity="0.42"/>
<line x1="277.1" y1="183.9" x2="273.4" y2="188.7" stroke="#2c4146" stroke-width="0.9" stroke-opacity="0.51"/>
<line x1="312.2" y1="235.9" x2="311.7" y2="241.8" stroke="#2c4146" stroke-width="1.2" stroke-opacity="0.73"/>
<line x1="299.0" y1="220.2" x2="298.1" y2="226.3" stroke="#2c4146" stroke-width="1.4" stroke-opacity="0.54"/>
<line x1="312.7" y1="228.3" x2="313.5" y2="233.8" stroke="#2c4146" stroke-width="0.9" stroke-opacity="0.72"/>
<line x1="282.9" y1="178.8" x2="279.6" y2="184.4" stroke="#2c4146" stroke-width="1.2" stroke-opacity="0.42"/>
<line x1="279.4" y1="184.1" x2="275.9" y2="191.3" stroke="#2c4146" stroke-width="0.7" stroke-opacity="0.75"/>
<line x1="305.0" y1="226.9" x2="305.1" y2="229.5" stroke="#2c4146" stroke-width="1.4" stroke-opacity="0.46"/>
<line x1="287.4" y1="206.3" x2="286.3" y2="213.4" stroke="#2c4146" stroke-width="1.4" stroke-opacity="0.67"/>
<line x1="318.7" y1="204.0" x2="319.9" y2="208.4" stroke="#2c4146" stroke-width="0.9" stroke-opacity="0.55"/>
<line x1="316.2" y1="229.6" x2="317.1" y2="232.8" stroke="#2c4146" stroke-width="1.4" stroke-opacity="0.58"/>
<line x1="311.1" y1="228.1" x2="311.4" y2="231.5" stroke="#2c4146" stroke-width="1.4" stroke-opacity="0.54"/>
<line x1="320.8" y1="229.8" x2="321.1" y2="233.8" stroke="#2c4146" stroke-width="0.9" stroke-opacity="0.63"/>
<line x1="314.8" y1="231.0" x2="316.4" y2="236.3" stroke="#2c4146" stroke-width="1.2" stroke-opacity="0.44"/>
<line x1="306.9" y1="228.9" x2="305.6" y2="235.6" stroke="#2c4146" stroke-width="0.7" stroke-opacity="0.73"/>
<line x1="288.0" y1="194.6" x2="288.2" y2="200.4" stroke="#2c4146" stroke-width="1.4" stroke-opacity="0.44"/>
<line x1="308.1" y1="226.3" x2="308.0" y2="228.7" stroke="#2c4146" stroke-width="1.2" stroke-opacity="0.52"/>
<line x1="300.9" y1="220.2" x2="301.4" y2="225.4" stroke="#2c4146" stroke-width="1.2" stroke-opacity="0.41"/>
<line x1="314.3" y1="226.8" x2="315.8" y2="232.2" stroke="#2c4146" stroke-width="0.7" stroke-opacity="0.54"/>
<line x1="297.8" y1="206.9" x2="298.0" y2="210.0" stroke="#2c4146" stroke-width="1.4" stroke-opacity="0.83"/>
<line x1="292.5" y1="214.8" x2="292.4" y2="221.4" stroke="#2c4146" stroke-width="1.4" stroke-opacity="0.78"/>
<line x1="285.1" y1="200.4" x2="284.2" y2="206.1" stroke="#2c4146" stroke-width="0.9" stroke-opacity="0.72"/>
<line x1="302.3" y1="209.0" x2="302.2" y2="211.2" stroke="#2c4146" stroke-width="1.2" stroke-opacity="0.49"/>
<line x1="292.1" y1="205.2" x2="290.7" y2="208.6" stroke="#2c4146" stroke-width="0.9" stroke-opacity="0.43"/>
<line x1="285.9" y1="181.2" x2="284.9" y2="189.0" stroke="#2c4146" stroke-width="0.9" stroke-opacity="0.70"/>
<line x1="277.6" y1="177.8" x2="276.0" y2="182.3" stroke="#2c4146" stroke-width="0.9" stroke-opacity="0.45"/>
<line x1="312.9" y1="215.5" x2="313.4" y2="218.4" stroke="#2c4146" stroke-width="1.2" stroke-opacity="0.79"/>
<line x1="300.4" y1="216.0" x2="299.8" y2="220.7" stroke="#2c4146" stroke-width="1.2" stroke-opacity="0.75"/>
<line x1="302.0" y1="224.2" x2="301.9" y2="226.3" stroke="#2c4146" stroke-width="1.2" stroke-opacity="0.78"/>
<line x1="284.3" y1="198.2" x2="281.4" y2="204.7" stroke="#2c4146" stroke-width="1.2" stroke-opacity="0.74"/>
<line x1="291.2" y1="205.0" x2="290.6" y2="208.8" stroke="#2c4146" stroke-width="1.2" stroke-opacity="0.56"/>
<line x1="303.8" y1="194.6" x2="303.5" y2="199.5" stroke="#2c4146" stroke-width="0.9" stroke-opacity="0.58"/>
<line x1="311.3" y1="232.7" x2="311.1" y2="240.0" stroke="#2c4146" stroke-width="1.4" stroke-opacity="0.59"/>
<line x1="296.8" y1="218.9" x2="296.7" y2="222.5" stroke="#2c4146" stroke-width="0.9" stroke-opacity="0.75"/>
<line x1="302.2" y1="207.2" x2="304.1" y2="211.0" stroke="#2c4146" stroke-width="0.7" stroke-opacity="0.42"/>
<line x1="292.7" y1="212.7" x2="292.0" y2="219.2" stroke="#2c4146" stroke-width="0.7" stroke-opacity="0.71"/>
<line x1="289.9" y1="202.1" x2="289.0" y2="209.5" stroke="#2c4146" stroke-width="1.2" stroke-opacity="0.60"/>
<line x1="298.5" y1="219.5" x2="297.7" y2="224.8" stroke="#2c4146" stroke-width="0.7" stroke-opacity="0.83"/>
<line x1="294.1" y1="215.0" x2="291.1" y2="220.7" stroke="#2c4146" stroke-width="1.2" stroke-opacity="0.55"/>
<line x1="274.7" y1="184.4" x2="271.7" y2="190.0" stroke="#2c4146" stroke-width="1.4" stroke-opacity="0.80"/>
<line x1="315.0" y1="224.3" x2="315.2" y2="229.8" stroke="#2c4146" stroke-width="1.2" stroke-opacity="0.60"/>
<line x1="288.2" y1="204.8" x2="288.9" y2="210.5" stroke="#2c4146" stroke-width="1.4" stroke-opacity="0.85"/>
<line x1="283.5" y1="192.6" x2="282.8" y2="196.1" stroke="#2c4146" stroke-width="0.7" stroke-opacity="0.79"/>
<line x1="300.2" y1="217.4" x2="300.6" y2="223.6" stroke="#2c4146" stroke-width="1.4" stroke-opacity="0.43"/>
<line x1="299.7" y1="213.6" x2="297.5" y2="220.0" stroke="#2c4146" stroke-width="1.4" stroke-opacity="0.57"/>
<line x1="318.3" y1="228.5" x2="317.5" y2="234.2" stroke="#2c4146" stroke-width="1.2" stroke-opacity="0.71"/>
<line x1="298.8" y1="207.7" x2="298.4" y2="210.1" stroke="#2c4146" stroke-width="0.9" stroke-opacity="0.59"/>
<line x1="298.0" y1="212.3" x2="298.4" y2="219.4" stroke="#2c4146" stroke-width="1.4" stroke-opacity="0.61"/>
<line x1="331.2" y1="176.1" x2="332.2" y2="180.0" stroke="#34484e" stroke-width="0.8" stroke-opacity="0.56"/>
<line x1="317.3" y1="165.2" x2="319.2" y2="168.3" stroke="#34484e" stroke-width="0.8" stroke-opacity="0.56"/>
<line x1="340.9" y1="183.4" x2="343.7" y2="185.8" stroke="#34484e" stroke-width="0.6" stroke-opacity="0.73"/>
<line x1="332.8" y1="172.9" x2="336.0" y2="177.6" stroke="#34484e" stroke-width="0.6" stroke-opacity="0.71"/>
<line x1="340.1" y1="184.1" x2="342.9" y2="190.8" stroke="#34484e" stroke-width="1.0" stroke-opacity="0.63"/>
<line x1="344.5" y1="168.4" x2="348.4" y2="175.8" stroke="#34484e" stroke-width="0.8" stroke-opacity="0.52"/>
<line x1="347.7" y1="163.0" x2="351.5" y2="168.4" stroke="#34484e" stroke-width="1.0" stroke-opacity="0.41"/>
<line x1="336.0" y1="169.0" x2="340.1" y2="176.0" stroke="#34484e" stroke-width="0.6" stroke-opacity="0.74"/>
<line x1="343.0" y1="156.3" x2="345.7" y2="158.8" stroke="#34484e" stroke-width="0.8" stroke-opacity="0.45"/>
<line x1="319.4" y1="166.4" x2="321.3" y2="168.7" stroke="#34484e" stroke-width="0.8" stroke-opacity="0.42"/>
<line x1="333.3" y1="163.1" x2="338.8" y2="171.2" stroke="#34484e" stroke-width="0.8" stroke-opacity="0.56"/>
<line x1="346.2" y1="171.5" x2="348.3" y2="175.9" stroke="#34484e" stroke-width="0.6" stroke-opacity="0.60"/>
<line x1="325.1" y1="171.8" x2="328.0" y2="175.8" stroke="#34484e" stroke-width="1.0" stroke-opacity="0.51"/>
<line x1="345.8" y1="160.8" x2="346.7" y2="167.1" stroke="#34484e" stroke-width="0.6" stroke-opacity="0.67"/>
<line x1="342.2" y1="159.7" x2="344.7" y2="165.2" stroke="#34484e" stroke-width="1.0" stroke-opacity="0.71"/>
<line x1="316.4" y1="184.8" x2="320.4" y2="189.0" stroke="#34484e" stroke-width="1.0" stroke-opacity="0.68"/>
<line x1="329.5" y1="166.4" x2="334.4" y2="171.5" stroke="#34484e" stroke-width="1.0" stroke-opacity="0.70"/>
<line x1="336.4" y1="170.9" x2="340.6" y2="176.2" stroke="#34484e" stroke-width="0.8" stroke-opacity="0.62"/>
<line x1="344.5" y1="167.2" x2="346.1" y2="169.9" stroke="#34484e" stroke-width="0.8" stroke-opacity="0.50"/>
<line x1="332.6" y1="172.5" x2="337.1" y2="179.9" stroke="#34484e" stroke-width="0.8" stroke-opacity="0.77"/>
<line x1="329.7" y1="183.1" x2="333.0" y2="189.5" stroke="#34484e" stroke-width="1.0" stroke-opacity="0.47"/>
<line x1="337.2" y1="166.3" x2="339.5" y2="170.3" stroke="#34484e" stroke-width="1.0" stroke-opacity="0.76"/>
<line x1="346.1" y1="177.0" x2="350.6" y2="183.8" stroke="#34484e" stroke-width="1.0" stroke-opacity="0.43"/>
<line x1="322.8" y1="167.0" x2="325.8" y2="173.9" stroke="#34484e" stroke-width="0.8" stroke-opacity="0.73"/>
<line x1="342.2" y1="175.3" x2="344.8" y2="179.9" stroke="#34484e" stroke-width="1.0" stroke-opacity="0.51"/>
<line x1="333.0" y1="169.1" x2="336.2" y2="172.6" stroke="#34484e" stroke-width="0.6" stroke-opacity="0.45"/>
<line x1="335.0" y1="173.7" x2="338.6" y2="178.1" stroke="#34484e" stroke-width="1.0" stroke-opacity="0.51"/>
<line x1="334.9" y1="173.5" x2="337.2" y2="178.4" stroke="#34484e" stroke-width="0.8" stroke-opacity="0.61"/>
<line x1="328.7" y1="169.9" x2="333.4" y2="175.7" stroke="#34484e" stroke-width="0.6" stroke-opacity="0.62"/>
<line x1="341.5" y1="176.7" x2="344.5" y2="182.1" stroke="#34484e" stroke-width="0.8" stroke-opacity="0.73"/>
<line x1="345.4" y1="171.6" x2="350.4" y2="178.3" stroke="#34484e" stroke-width="0.8" stroke-opacity="0.55"/>
<line x1="336.1" y1="174.6" x2="342.7" y2="180.1" stroke="#34484e" stroke-width="0.6" stroke-opacity="0.50"/>
<line x1="329.3" y1="175.8" x2="330.9" y2="179.9" stroke="#34484e" stroke-width="0.6" stroke-opacity="0.63"/>
<line x1="330.2" y1="169.4" x2="334.7" y2="175.6" stroke="#34484e" stroke-width="0.6" stroke-opacity="0.73"/>
<line x1="336.8" y1="181.3" x2="343.9" y2="185.9" stroke="#34484e" stroke-width="0.8" stroke-opacity="0.75"/>
<line x1="324.7" y1="173.9" x2="326.9" y2="176.0" stroke="#34484e" stroke-width="0.6" stroke-opacity="0.72"/>
  </g>
</g>
<path d="M334 149.5 A48 48 0 0 1 352.5 163.5" stroke="#c08050" stroke-width="0.8" fill="none" clip-path="url(#c1)"/>
<clipPath id="tex1clip"><path d="M260 140 L375 140 L375 250 L313.3 250 L313.3 241.7 C310 238.5 306 234 300 226.7 C295 220 290 214 288.3 211.7 C284 205 280 200 276.7 195 C273 190 270 185 268.3 181.7 L260 181.7 Z"/></clipPath>

<!-- ===== CIRCLE 2: bearing ===== -->
<g clip-path="url(#c2)">
  <path d="M262 314 L268.4 309 C278 298 288 288 299 278.4 L306 300 L301 312 L286 320 L272 346 L262 346 Z" fill="url(#tealC2)"/>
  <g stroke="#8dbcc4" stroke-width="1.2" opacity="0.55" fill="none"><path d="M268 316 C278 305 288 296 299 287"/><path d="M268 326 C278 314 288 304 301 294"/><path d="M270 336 C278 324 286 314 299 304"/></g>
  <g stroke="#2f5c66" stroke-width="0.9" opacity="0.6" fill="none"><path d="M268 312 C278 302 288 292 298 284"/><path d="M268 331 C276 319 286 309 299 299"/></g>
  <path d="M298.5 278 L306.5 301" stroke="#e6e6e6" stroke-width="3.2"/>
  <path d="M297 278.5 L304.8 301" stroke="#8a8a8a" stroke-width="0.7"/>
  <path d="M337 299 C346 296 355 295 362 295 L368 336 C364 348 356 360 348 368 L330 360 Z" fill="#94501f"/>
  <path d="M352 298 L364 295 L367 322 L357 310 Z" fill="#b87440"/>
  <path d="M330 345 L362 340 L352 364 L336 370 Z" fill="#b06a34"/>
  <rect x="306" y="350" width="21" height="28" fill="#7e4620"/>
  <rect x="311" y="350" width="7" height="28" fill="#a86a3a"/>
  <ellipse cx="315.5" cy="327.3" rx="36" ry="29.5" fill="url(#disc)"/>
  <g fill="#8a5028" opacity="0.55">
    <path d="M315 326 L290 302 L304 299 Z"/><path d="M315 326 L340 302 L352 312 Z"/><path d="M315 326 L350 340 L340 350 Z"/><path d="M315 326 L300 352 L286 342 Z"/><path d="M315 326 L281 322 L283 310 Z"/>
  </g>
  <ellipse cx="315.5" cy="327.3" rx="36" ry="29.5" fill="none" stroke="#7a4218" stroke-width="1"/>
  <g stroke="#e3a86c" stroke-width="2.4" stroke-linecap="round">
    <line x1="324" y1="312" x2="357" y2="298"/>
    <line x1="330" y1="328" x2="361" y2="334"/>
    <line x1="317" y1="336" x2="325" y2="366"/>
    <line x1="303" y1="332" x2="283" y2="352"/>
    <line x1="301" y1="318" x2="272" y2="313"/>
    <line x1="308" y1="309" x2="301" y2="288"/>
  </g>
  <g stroke="#6e3a16" stroke-width="0.8" stroke-linecap="round" opacity="0.9">
    <line x1="324" y1="314" x2="357" y2="300"/>
    <line x1="330" y1="330" x2="361" y2="336"/>
    <line x1="319" y1="336" x2="327" y2="366"/>
    <line x1="305" y1="333" x2="285" y2="353"/>
    <line x1="301" y1="320" x2="280" y2="316"/>
  </g>
  <ellipse cx="315.8" cy="321" rx="16" ry="14.2" fill="#5a3620"/>
  <ellipse cx="315.8" cy="320.5" rx="13" ry="11" fill="#c8c2be"/>
  <ellipse cx="315.8" cy="321.5" rx="10.2" ry="8.2" fill="#3a302c"/>
  <ellipse cx="316" cy="323" rx="8" ry="4.8" fill="#8a847e"/>
  <rect x="312.5" y="317" width="9" height="6" fill="#4a4040"/>
  <ellipse cx="317.3" cy="316" rx="5.2" ry="5.6" fill="url(#nut)"/>
  <circle cx="291.7" cy="330.3" r="3.4" fill="#3e2c22" stroke="#24160e" stroke-width="0.8"/>
  <circle cx="291.7" cy="330.3" r="1.2" fill="#8a7a70"/>
  <circle cx="334" cy="339.8" r="3.4" fill="#3e2c22" stroke="#24160e" stroke-width="0.8"/>
  <circle cx="334" cy="339.8" r="1.2" fill="#8a7a70"/>
  <circle cx="322.4" cy="305.9" r="2.8" fill="#3e2c22"/>
</g>

<!-- ===== CIRCLE 3: leaf ===== -->
<g clip-path="url(#c3)">
  <path d="M268.7 438.4 C274 434.5 280 431.5 287 429.8 C295 428 302 427.5 309.2 427.7 C316 428 322.4 430.3 322.4 430.3 C331 433.5 339 438 345 445 C351 452 355.5 459 357.3 466 C358 469 358 471 357.8 473 C352 477.5 345 481 336 482.6 C328 483.5 318 483 309.2 480.4 C301 478 293 472 287.1 464.2 C282 458 278 452 274 447 C271.5 444 269.5 441 268.7 438.4 Z" fill="url(#bigleaf)" stroke="#0b5e2c" stroke-width="0.8"/>
  <clipPath id="leafclip"><path d="M268.7 438.4 C274 434.5 280 431.5 287 429.8 C295 428 302 427.5 309.2 427.7 C316 428 322.4 430.3 322.4 430.3 C331 433.5 339 438 345 445 C351 452 355.5 459 357.3 466 C358 469 358 471 357.8 473 C352 477.5 345 481 336 482.6 C328 483.5 318 483 309.2 480.4 C301 478 293 472 287.1 464.2 C282 458 278 452 274 447 C271.5 444 269.5 441 268.7 438.4 Z"/></clipPath>
  <g clip-path="url(#leafclip)">
    <path d="M268 438 L300 430 L312 452 L300 470 L285 462 Z" fill="#7cc23e" opacity="0.5" filter="url(#blur2)"/>
    <g stroke="#a6dc5a" stroke-width="2.6" fill="none" opacity="0.45"><path d="M284 444.4 L275 431.4"/><path d="M296 449.0 L287 436.0"/><path d="M309 454.1 L300 441.1"/><path d="M290 446.7 L278 461.7"/><path d="M302 451.4 L290 466.4"/><path d="M315 456.4 L303 471.4"/></g>
    <g stroke="#0d6a2e" stroke-width="1.1" fill="none" opacity="0.8"><path d="M286.2 445.0 L277.2 432.0"/><path d="M298.2 449.6 L289.2 436.6"/><path d="M311.2 454.7 L302.2 441.7"/><path d="M324.2 459.7 L315.2 446.7"/><path d="M338.2 465.1 L329.2 452.1"/><path d="M292.2 447.1 L280.2 462.1"/><path d="M304.2 451.8 L292.2 466.8"/><path d="M317.2 456.8 L305.2 471.8"/><path d="M330.2 461.8 L318.2 476.8"/><path d="M344.2 467.2 L332.2 482.2"/></g>
    <g stroke="#6fd484" stroke-width="0.8" fill="none" opacity="0.7"><path d="M315 456.4 L303 471.4"/><path d="M328 461.4 L316 476.4"/><path d="M342 466.8 L330 481.8"/></g>
  </g>
  <path d="M270 439 C282 443 292 446 300 448.5" stroke="#2f8a3a" stroke-width="1.2" fill="none"/>
  <path d="M297.4 448 L338.6 464.9" stroke="#8fe0a0" stroke-width="1.2" stroke-dasharray="5 2.5" fill="none" opacity="0.9"/>
  <path d="M357.8 473 L362 477" stroke="#0d4a22" stroke-width="1.1"/>
</g>

<!-- ===== CIRCLE 4: pipe ===== -->
<g clip-path="url(#c4)">
  <path d="M305 534 L325 534 L325 573 Q315 574.5 305 573 Z" fill="url(#blk)"/>
  <rect x="306.8" y="582.3" width="17.4" height="17.5" fill="url(#silver)"/>
  <path d="M305.8 599.5 L325.5 599.5 L325.5 640 L305.8 640 Z" fill="url(#blk)"/>
</g>
</svg>





















<svg width="679" height="660" viewBox="0 0 679 660">
  <!-- dimension lines -->
  <g stroke="#111" stroke-width="2.2" fill="none">
    <line x1="33.5" y1="136" x2="33.5" y2="349.5"/>
    <line x1="33.5" y1="390" x2="33.5" y2="648"/>
  </g>
  <path d="M33.5 131 L30.5 137.5 L36.5 137.5 Z" fill="#111"/>
  <path d="M33.5 653 L30.5 646.5 L36.5 646.5 Z" fill="#111"/>
  <!-- 14in arrows -->
  <g fill="#111"><path d="M99 111.1 L104.2 107.8 L103 111.1 L104.2 114.4 Z"/><path d="M193.9 111.1 L188.7 107.8 L189.9 111.1 L188.7 114.4 Z"/></g>
  <g stroke="#111" stroke-width="1.8"><line x1="102.5" y1="111.1" x2="115.8" y2="111.1"/><line x1="175.7" y1="111.1" x2="190.4" y2="111.1"/></g>
  <!-- leader lines -->
  <g stroke="#000" stroke-width="2.4" fill="none">
    <polyline points="168,161.9 279,161.9"/>
    <polyline points="146.5,213.9 245.2,213.9 245.2,321 266.5,321"/>
    <polyline points="185.3,220.5 185.3,445.6 267.5,445.6"/>
    <polyline points="148,550.9 281,550.9"/>
  </g>
  <!-- dotted circles -->
  <g stroke="#000" stroke-width="2.2" stroke-linecap="round" fill="none" stroke-dasharray="0 4.7">
    <circle cx="315" cy="194.5" r="49"/>
    <circle cx="315" cy="324" r="49"/>
    <circle cx="315" cy="455" r="49.3"/>
    <circle cx="315" cy="585" r="49.3"/>
  </g>
</svg>
</div>
</body></html>
